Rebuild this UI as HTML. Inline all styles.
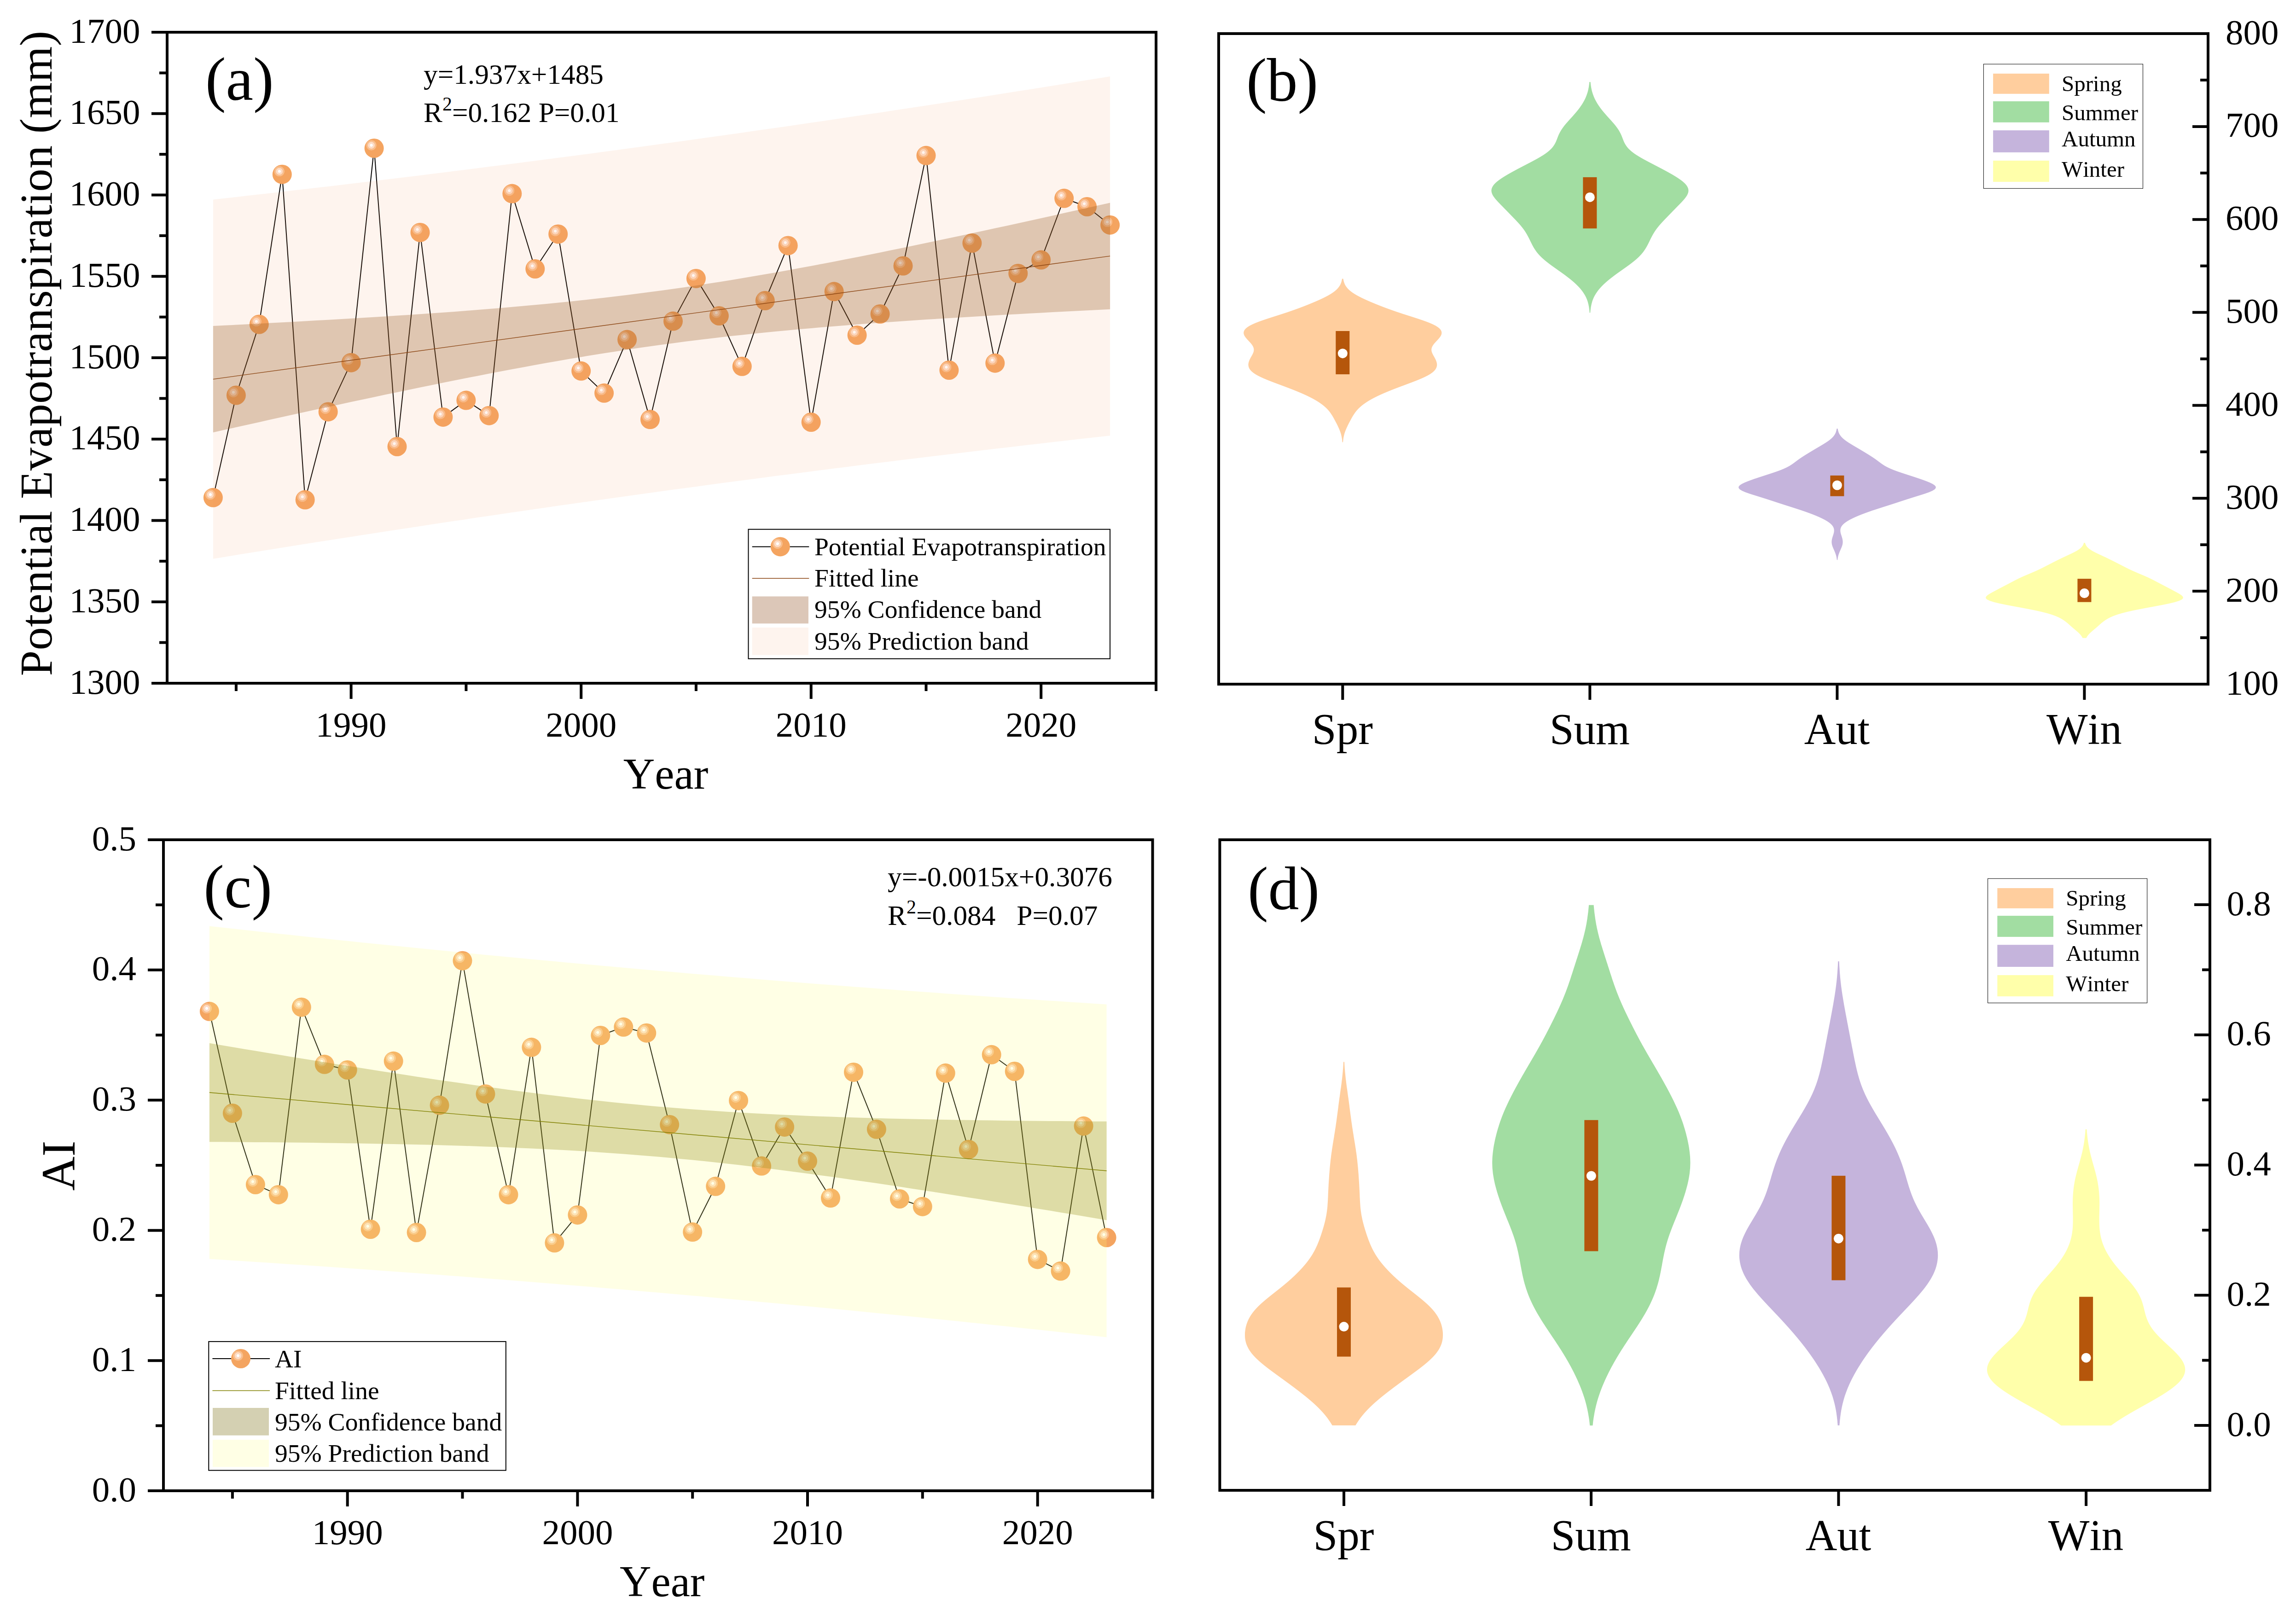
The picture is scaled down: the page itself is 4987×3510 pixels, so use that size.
<!DOCTYPE html>
<html lang="en"><head><meta charset="utf-8"><title>Potential Evapotranspiration and AI</title>
<style>html,body{margin:0;padding:0;background:#fff}svg{display:block}text{font-family:'Liberation Serif','Times New Roman',serif;fill:#000;font-kerning:none;font-variant-ligatures:none}</style></head><body>
<svg width="4987" height="3510" viewBox="0 0 4987 3510">
<defs>
<radialGradient id="ball" cx="0.357" cy="0.345" r="0.27" fx="0.357" fy="0.345"><stop offset="0" stop-color="#fff"/><stop offset="0.25" stop-color="#fff"/><stop offset="0.3" stop-color="#FDDCC6"/><stop offset="0.62" stop-color="#FDDCC6"/><stop offset="0.68" stop-color="#F9BE8C"/><stop offset="0.95" stop-color="#F9BE8C"/><stop offset="1" stop-color="#F4A460"/></radialGradient>
</defs>
<rect width="4987" height="3510" fill="#fff"/>
<g id="panel-a">
<polyline points="462.9,1080.8 512.9,858.5 562.8,704.5 612.8,378.7 662.7,1085.6 712.7,894.4 762.6,787.7 812.6,322 862.5,970 912.5,504.9 962.4,905.9 1012.4,869.6 1062.3,902.7 1112.3,420.6 1162.3,584 1212.2,508.4 1262.2,805.8 1312.1,853.8 1362.1,737.6 1412,911.1 1462,697.6 1511.9,604.9 1561.9,686 1611.8,795.8 1661.8,653 1711.7,533.4 1761.7,917 1811.7,633.3 1861.6,728 1911.6,682 1961.5,577.5 2011.5,337.8 2061.4,804 2111.4,528 2161.3,788.7 2211.3,593.9 2261.2,564.6 2311.2,430.8 2361.1,449 2411.1,488.7" fill="none" stroke="#000" stroke-width="2" stroke-linejoin="round"/>
<circle cx="462.9" cy="1080.8" r="21" fill="url(#ball)"/>
<circle cx="512.9" cy="858.5" r="21" fill="url(#ball)"/>
<circle cx="562.8" cy="704.5" r="21" fill="url(#ball)"/>
<circle cx="612.8" cy="378.7" r="21" fill="url(#ball)"/>
<circle cx="662.7" cy="1085.6" r="21" fill="url(#ball)"/>
<circle cx="712.7" cy="894.4" r="21" fill="url(#ball)"/>
<circle cx="762.6" cy="787.7" r="21" fill="url(#ball)"/>
<circle cx="812.6" cy="322" r="21" fill="url(#ball)"/>
<circle cx="862.5" cy="970" r="21" fill="url(#ball)"/>
<circle cx="912.5" cy="504.9" r="21" fill="url(#ball)"/>
<circle cx="962.4" cy="905.9" r="21" fill="url(#ball)"/>
<circle cx="1012.4" cy="869.6" r="21" fill="url(#ball)"/>
<circle cx="1062.3" cy="902.7" r="21" fill="url(#ball)"/>
<circle cx="1112.3" cy="420.6" r="21" fill="url(#ball)"/>
<circle cx="1162.3" cy="584" r="21" fill="url(#ball)"/>
<circle cx="1212.2" cy="508.4" r="21" fill="url(#ball)"/>
<circle cx="1262.2" cy="805.8" r="21" fill="url(#ball)"/>
<circle cx="1312.1" cy="853.8" r="21" fill="url(#ball)"/>
<circle cx="1362.1" cy="737.6" r="21" fill="url(#ball)"/>
<circle cx="1412" cy="911.1" r="21" fill="url(#ball)"/>
<circle cx="1462" cy="697.6" r="21" fill="url(#ball)"/>
<circle cx="1511.9" cy="604.9" r="21" fill="url(#ball)"/>
<circle cx="1561.9" cy="686" r="21" fill="url(#ball)"/>
<circle cx="1611.8" cy="795.8" r="21" fill="url(#ball)"/>
<circle cx="1661.8" cy="653" r="21" fill="url(#ball)"/>
<circle cx="1711.7" cy="533.4" r="21" fill="url(#ball)"/>
<circle cx="1761.7" cy="917" r="21" fill="url(#ball)"/>
<circle cx="1811.7" cy="633.3" r="21" fill="url(#ball)"/>
<circle cx="1861.6" cy="728" r="21" fill="url(#ball)"/>
<circle cx="1911.6" cy="682" r="21" fill="url(#ball)"/>
<circle cx="1961.5" cy="577.5" r="21" fill="url(#ball)"/>
<circle cx="2011.5" cy="337.8" r="21" fill="url(#ball)"/>
<circle cx="2061.4" cy="804" r="21" fill="url(#ball)"/>
<circle cx="2111.4" cy="528" r="21" fill="url(#ball)"/>
<circle cx="2161.3" cy="788.7" r="21" fill="url(#ball)"/>
<circle cx="2211.3" cy="593.9" r="21" fill="url(#ball)"/>
<circle cx="2261.2" cy="564.6" r="21" fill="url(#ball)"/>
<circle cx="2311.2" cy="430.8" r="21" fill="url(#ball)"/>
<circle cx="2361.1" cy="449" r="21" fill="url(#ball)"/>
<circle cx="2411.1" cy="488.7" r="21" fill="url(#ball)"/>
<polygon points="462.9,433.5 487.9,430.7 512.9,427.9 537.8,425.1 562.8,422.2 587.8,419.4 612.8,416.5 637.7,413.6 662.7,410.7 687.7,407.8 712.7,404.9 737.7,402 762.6,399 787.6,396 812.6,393 837.6,390 862.5,387 887.5,383.9 912.5,380.9 937.5,377.8 962.4,374.7 987.4,371.6 1012.4,368.4 1037.4,365.3 1062.3,362.1 1087.3,359 1112.3,355.8 1137.3,352.5 1162.3,349.3 1187.2,346.1 1212.2,342.8 1237.2,339.5 1262.2,336.2 1287.1,332.9 1312.1,329.6 1337.1,326.2 1362.1,322.8 1387,319.5 1412,316.1 1437,312.6 1462,309.2 1487,305.7 1511.9,302.3 1536.9,298.8 1561.9,295.3 1586.9,291.7 1611.8,288.2 1636.8,284.6 1661.8,281.1 1686.8,277.5 1711.7,273.9 1736.7,270.2 1761.7,266.6 1786.7,262.9 1811.7,259.3 1836.6,255.6 1861.6,251.8 1886.6,248.1 1911.6,244.4 1936.5,240.6 1961.5,236.8 1986.5,233 2011.5,229.2 2036.4,225.4 2061.4,221.5 2086.4,217.7 2111.4,213.8 2136.3,209.9 2161.3,206 2186.3,202.1 2211.3,198.1 2236.3,194.2 2261.2,190.2 2286.2,186.2 2311.2,182.2 2336.2,178.1 2361.1,174.1 2386.1,170 2411.1,166 2411.1,946.2 2386.1,949 2361.1,951.8 2336.2,954.6 2311.2,957.5 2286.2,960.3 2261.2,963.2 2236.3,966.1 2211.3,969 2186.3,971.9 2161.3,974.8 2136.3,977.7 2111.4,980.7 2086.4,983.7 2061.4,986.7 2036.4,989.7 2011.5,992.7 1986.5,995.8 1961.5,998.8 1936.5,1001.9 1911.6,1005 1886.6,1008.1 1861.6,1011.3 1836.6,1014.4 1811.7,1017.6 1786.7,1020.7 1761.7,1023.9 1736.7,1027.2 1711.7,1030.4 1686.8,1033.6 1661.8,1036.9 1636.8,1040.2 1611.8,1043.5 1586.9,1046.8 1561.9,1050.1 1536.9,1053.5 1511.9,1056.9 1487,1060.2 1462,1063.6 1437,1067.1 1412,1070.5 1387,1074 1362.1,1077.4 1337.1,1080.9 1312.1,1084.4 1287.1,1088 1262.2,1091.5 1237.2,1095.1 1212.2,1098.6 1187.2,1102.2 1162.3,1105.8 1137.3,1109.5 1112.3,1113.1 1087.3,1116.8 1062.3,1120.4 1037.4,1124.1 1012.4,1127.9 987.4,1131.6 962.4,1135.3 937.5,1139.1 912.5,1142.9 887.5,1146.7 862.5,1150.5 837.6,1154.3 812.6,1158.2 787.6,1162 762.6,1165.9 737.7,1169.8 712.7,1173.7 687.7,1177.6 662.7,1181.6 637.7,1185.5 612.8,1189.5 587.8,1193.5 562.8,1197.5 537.8,1201.6 512.9,1205.6 487.9,1209.7 462.9,1213.7" fill="#FA965A" fill-opacity="0.10"/>
<polygon points="462.9,708 487.9,706.7 512.9,705.5 537.8,704.2 562.8,702.9 587.8,701.6 612.8,700.3 637.7,698.9 662.7,697.5 687.7,696.1 712.7,694.7 737.7,693.3 762.6,691.8 787.6,690.3 812.6,688.8 837.6,687.2 862.5,685.6 887.5,683.9 912.5,682.2 937.5,680.5 962.4,678.7 987.4,676.9 1012.4,675 1037.4,673 1062.3,671 1087.3,669 1112.3,666.8 1137.3,664.6 1162.3,662.3 1187.2,659.9 1212.2,657.5 1237.2,654.9 1262.2,652.3 1287.1,649.6 1312.1,646.7 1337.1,643.8 1362.1,640.7 1387,637.6 1412,634.3 1437,630.9 1462,627.5 1487,623.9 1511.9,620.2 1536.9,616.3 1561.9,612.4 1586.9,608.4 1611.8,604.3 1636.8,600.1 1661.8,595.8 1686.8,591.4 1711.7,586.9 1736.7,582.3 1761.7,577.7 1786.7,572.9 1811.7,568.2 1836.6,563.3 1861.6,558.4 1886.6,553.4 1911.6,548.4 1936.5,543.3 1961.5,538.2 1986.5,533 2011.5,527.8 2036.4,522.6 2061.4,517.3 2086.4,512 2111.4,506.6 2136.3,501.2 2161.3,495.8 2186.3,490.4 2211.3,484.9 2236.3,479.4 2261.2,473.9 2286.2,468.4 2311.2,462.8 2336.2,457.3 2361.1,451.7 2386.1,446.1 2411.1,440.5 2411.1,671.7 2386.1,673 2361.1,674.2 2336.2,675.5 2311.2,676.8 2286.2,678.1 2261.2,679.4 2236.3,680.8 2211.3,682.2 2186.3,683.6 2161.3,685 2136.3,686.4 2111.4,687.9 2086.4,689.4 2061.4,690.9 2036.4,692.5 2011.5,694.1 1986.5,695.8 1961.5,697.5 1936.5,699.2 1911.6,701 1886.6,702.8 1861.6,704.7 1836.6,706.7 1811.7,708.7 1786.7,710.7 1761.7,712.9 1736.7,715.1 1711.7,717.4 1686.8,719.8 1661.8,722.2 1636.8,724.8 1611.8,727.4 1586.9,730.1 1561.9,733 1536.9,735.9 1511.9,739 1487,742.1 1462,745.4 1437,748.8 1412,752.2 1387,755.8 1362.1,759.5 1337.1,763.4 1312.1,767.3 1287.1,771.3 1262.2,775.4 1237.2,779.6 1212.2,783.9 1187.2,788.3 1162.3,792.8 1137.3,797.4 1112.3,802 1087.3,806.8 1062.3,811.5 1037.4,816.4 1012.4,821.3 987.4,826.3 962.4,831.3 937.5,836.4 912.5,841.5 887.5,846.7 862.5,851.9 837.6,857.1 812.6,862.4 787.6,867.7 762.6,873.1 737.7,878.5 712.7,883.9 687.7,889.3 662.7,894.8 637.7,900.3 612.8,905.8 587.8,911.3 562.8,916.9 537.8,922.4 512.9,928 487.9,933.6 462.9,939.2" fill="#975E26" fill-opacity="0.30"/>
<line x1="462.9" y1="823.6" x2="2411.1" y2="556.1" stroke="#8B4513" stroke-width="1.4" />
<rect x="363" y="70" width="2148" height="1414" fill="none" stroke="#000" stroke-width="6"/>
<line x1="329" y1="1484" x2="363" y2="1484" stroke="#000" stroke-width="6" />
<text x="304.5" y="1506.5" font-size="77" text-anchor="end" >1300</text>
<line x1="346" y1="1395.6" x2="363" y2="1395.6" stroke="#000" stroke-width="6" />
<line x1="329" y1="1307.2" x2="363" y2="1307.2" stroke="#000" stroke-width="6" />
<text x="304.5" y="1329.8" font-size="77" text-anchor="end" >1350</text>
<line x1="346" y1="1218.9" x2="363" y2="1218.9" stroke="#000" stroke-width="6" />
<line x1="329" y1="1130.5" x2="363" y2="1130.5" stroke="#000" stroke-width="6" />
<text x="304.5" y="1153" font-size="77" text-anchor="end" >1400</text>
<line x1="346" y1="1042.1" x2="363" y2="1042.1" stroke="#000" stroke-width="6" />
<line x1="329" y1="953.8" x2="363" y2="953.8" stroke="#000" stroke-width="6" />
<text x="304.5" y="976.2" font-size="77" text-anchor="end" >1450</text>
<line x1="346" y1="865.4" x2="363" y2="865.4" stroke="#000" stroke-width="6" />
<line x1="329" y1="777" x2="363" y2="777" stroke="#000" stroke-width="6" />
<text x="304.5" y="799.5" font-size="77" text-anchor="end" >1500</text>
<line x1="346" y1="688.6" x2="363" y2="688.6" stroke="#000" stroke-width="6" />
<line x1="329" y1="600.2" x2="363" y2="600.2" stroke="#000" stroke-width="6" />
<text x="304.5" y="622.8" font-size="77" text-anchor="end" >1550</text>
<line x1="346" y1="511.9" x2="363" y2="511.9" stroke="#000" stroke-width="6" />
<line x1="329" y1="423.5" x2="363" y2="423.5" stroke="#000" stroke-width="6" />
<text x="304.5" y="446" font-size="77" text-anchor="end" >1600</text>
<line x1="346" y1="335.1" x2="363" y2="335.1" stroke="#000" stroke-width="6" />
<line x1="329" y1="246.8" x2="363" y2="246.8" stroke="#000" stroke-width="6" />
<text x="304.5" y="269.2" font-size="77" text-anchor="end" >1650</text>
<line x1="346" y1="158.4" x2="363" y2="158.4" stroke="#000" stroke-width="6" />
<line x1="329" y1="70" x2="363" y2="70" stroke="#000" stroke-width="6" />
<text x="304.5" y="92.5" font-size="77" text-anchor="end" >1700</text>
<line x1="512.9" y1="1484" x2="512.9" y2="1501" stroke="#000" stroke-width="6" />
<line x1="762.6" y1="1484" x2="762.6" y2="1518" stroke="#000" stroke-width="6" />
<text x="762.6" y="1600" font-size="77" text-anchor="middle" >1990</text>
<line x1="1012.4" y1="1484" x2="1012.4" y2="1501" stroke="#000" stroke-width="6" />
<line x1="1262.2" y1="1484" x2="1262.2" y2="1518" stroke="#000" stroke-width="6" />
<text x="1262.2" y="1600" font-size="77" text-anchor="middle" >2000</text>
<line x1="1511.9" y1="1484" x2="1511.9" y2="1501" stroke="#000" stroke-width="6" />
<line x1="1761.7" y1="1484" x2="1761.7" y2="1518" stroke="#000" stroke-width="6" />
<text x="1761.7" y="1600" font-size="77" text-anchor="middle" >2010</text>
<line x1="2011.5" y1="1484" x2="2011.5" y2="1501" stroke="#000" stroke-width="6" />
<line x1="2261.2" y1="1484" x2="2261.2" y2="1518" stroke="#000" stroke-width="6" />
<text x="2261.2" y="1600" font-size="77" text-anchor="middle" >2020</text>
<line x1="2511" y1="1484" x2="2511" y2="1501" stroke="#000" stroke-width="6" />
<text x="1446" y="1713" font-size="95" text-anchor="middle" >Year</text>
<text x="111.7" y="767.4" font-size="100" text-anchor="middle" transform="rotate(-90 111.7 767.4)" letter-spacing="0.4">Potential Evapotranspiration (mm)</text>
<text x="446" y="217.4" font-size="134" text-anchor="start" >(a)</text>
<text x="920" y="181.5" font-size="61.3" text-anchor="start" >y=1.937x+1485</text>
<text x="920" y="265.1" font-size="61.3">R<tspan dy="-25" font-size="42">2</tspan><tspan dy="25">=0.162 P=0.01</tspan></text>
<rect x="1625.5" y="1149.7" width="785.5" height="281.1" fill="#fff" stroke="#000" stroke-width="2"/>
<line x1="1633.7" y1="1187.4" x2="1757.3" y2="1187.4" stroke="#000" stroke-width="2" />
<circle cx="1694.8" cy="1187.4" r="21" fill="url(#ball)"/>
<line x1="1633.7" y1="1256.2" x2="1757.3" y2="1256.2" stroke="#8B4513" stroke-width="1.4" />
<rect x="1633.7" y="1295.4" width="122.2" height="58.9" fill="#8B4513" fill-opacity="0.30"/>
<rect x="1633.7" y="1363" width="122.2" height="59.7" fill="#FA965A" fill-opacity="0.10"/>
<text x="1769" y="1205.7" font-size="55.5" text-anchor="start" >Potential Evapotranspiration</text>
<text x="1769" y="1273.8" font-size="55.5" text-anchor="start" >Fitted line</text>
<text x="1769" y="1342.2" font-size="55.5" text-anchor="start" >95% Confidence band</text>
<text x="1769" y="1411" font-size="55.5" text-anchor="start" >95% Prediction band</text>
</g>
<g id="panel-b">
<path d="M2917.5,605.6L2918.1,608.6L2918.8,611.6L2919.8,614.6L2921,617.6L2922.6,620.6L2924.7,623.6L2927.1,626.6L2930.1,629.6L2933.6,632.6L2937.6,635.6L2942.2,638.6L2947.3,641.6L2952.9,644.6L2958.9,647.6L2965.3,650.6L2972,653.6L2979,656.6L2986.2,659.6L2993.6,662.6L3001.2,665.6L3009.1,668.6L3017.3,671.6L3025.7,674.6L3034.4,677.6L3043.4,680.6L3052.6,683.6L3062,686.6L3071.4,689.6L3080.6,692.6L3089.5,695.6L3097.9,698.6L3105.6,701.6L3112.4,704.6L3118.3,707.6L3123,710.6L3126.7,713.6L3129.3,716.6L3130.8,719.6L3131.4,722.6L3131.1,725.6L3130,728.6L3128.2,731.6L3125.9,734.6L3123.3,737.6L3120.5,740.6L3117.7,743.6L3115,746.6L3112.8,749.6L3111,752.6L3109.8,755.6L3109.2,758.6L3109.3,761.6L3109.9,764.6L3111.1,767.6L3112.5,770.6L3114.2,773.6L3115.9,776.6L3117.5,779.6L3118.9,782.6L3120,785.6L3120.8,788.6L3121.2,791.6L3121,794.6L3120.3,797.6L3119,800.6L3117,803.6L3114.2,806.6L3110.7,809.6L3106.4,812.6L3101.2,815.6L3095.3,818.6L3088.8,821.6L3081.8,824.6L3074.3,827.6L3066.5,830.6L3058.5,833.6L3050.5,836.6L3042.4,839.6L3034.5,842.6L3026.7,845.6L3019.2,848.6L3011.9,851.6L3004.8,854.6L2998.1,857.6L2991.7,860.6L2985.7,863.6L2980,866.6L2974.7,869.6L2969.8,872.6L2965.3,875.6L2961.1,878.6L2957.3,881.6L2953.9,884.6L2950.7,887.6L2947.9,890.6L2945.4,893.6L2943.1,896.6L2941.1,899.6L2939.1,902.6L2937.3,905.6L2935.6,908.6L2934,911.6L2932.4,914.6L2930.8,917.6L2929.2,920.6L2927.7,923.6L2926.3,926.6L2924.9,929.6L2923.6,932.6L2922.4,935.6L2921.3,938.6L2920.3,941.6L2919.5,944.6L2918.8,947.6L2918.2,950.6L2917.7,953.6L2917.4,956.6L2917.1,959.6L2917,960.6L2915.6,960.6L2915.5,959.6L2915.2,956.6L2914.9,953.6L2914.4,950.6L2913.8,947.6L2913.1,944.6L2912.3,941.6L2911.3,938.6L2910.2,935.6L2909,932.6L2907.7,929.6L2906.3,926.6L2904.9,923.6L2903.4,920.6L2901.8,917.6L2900.2,914.6L2898.6,911.6L2897,908.6L2895.3,905.6L2893.5,902.6L2891.5,899.6L2889.5,896.6L2887.2,893.6L2884.7,890.6L2881.9,887.6L2878.7,884.6L2875.3,881.6L2871.5,878.6L2867.3,875.6L2862.8,872.6L2857.9,869.6L2852.6,866.6L2846.9,863.6L2840.9,860.6L2834.5,857.6L2827.8,854.6L2820.7,851.6L2813.4,848.6L2805.9,845.6L2798.1,842.6L2790.2,839.6L2782.1,836.6L2774.1,833.6L2766.1,830.6L2758.3,827.6L2750.8,824.6L2743.8,821.6L2737.3,818.6L2731.4,815.6L2726.2,812.6L2721.9,809.6L2718.4,806.6L2715.6,803.6L2713.6,800.6L2712.3,797.6L2711.6,794.6L2711.4,791.6L2711.8,788.6L2712.6,785.6L2713.7,782.6L2715.1,779.6L2716.7,776.6L2718.4,773.6L2720.1,770.6L2721.5,767.6L2722.7,764.6L2723.3,761.6L2723.4,758.6L2722.8,755.6L2721.6,752.6L2719.8,749.6L2717.6,746.6L2714.9,743.6L2712.1,740.6L2709.3,737.6L2706.7,734.6L2704.4,731.6L2702.6,728.6L2701.5,725.6L2701.2,722.6L2701.8,719.6L2703.3,716.6L2705.9,713.6L2709.6,710.6L2714.3,707.6L2720.2,704.6L2727,701.6L2734.7,698.6L2743.1,695.6L2752,692.6L2761.2,689.6L2770.6,686.6L2780,683.6L2789.2,680.6L2798.2,677.6L2806.9,674.6L2815.3,671.6L2823.5,668.6L2831.4,665.6L2839,662.6L2846.4,659.6L2853.6,656.6L2860.6,653.6L2867.3,650.6L2873.7,647.6L2879.7,644.6L2885.3,641.6L2890.4,638.6L2895,635.6L2899,632.6L2902.5,629.6L2905.5,626.6L2907.9,623.6L2910,620.6L2911.6,617.6L2912.8,614.6L2913.8,611.6L2914.5,608.6L2915.1,605.6Z" fill="#FFCE9E"/>
<rect x="2901.3" y="719" width="30" height="94" fill="#B5560B"/>
<circle cx="2916.3" cy="767.7" r="10.5" fill="#fff"/>
<path d="M3454.5,177.9L3454.8,180.9L3455.2,183.9L3455.6,186.9L3456.1,189.9L3456.7,192.9L3457.3,195.9L3458.1,198.9L3459,201.9L3460,204.9L3461.1,207.9L3462.3,210.9L3463.6,213.9L3465.1,216.9L3466.7,219.9L3468.4,222.9L3470.2,225.9L3472.2,228.9L3474.3,231.9L3476.4,234.9L3478.7,237.9L3481.1,240.9L3483.6,243.9L3486.2,246.9L3488.8,249.9L3491.4,252.9L3494.1,255.9L3496.9,258.9L3499.6,261.9L3502.2,264.9L3504.9,267.9L3507.4,270.9L3509.8,273.9L3512,276.9L3514.1,279.9L3516.1,282.9L3517.8,285.9L3519.4,288.9L3520.9,291.9L3522.2,294.9L3523.4,297.9L3524.5,300.9L3525.7,303.9L3526.9,306.9L3528.3,309.9L3529.9,312.9L3531.8,315.9L3533.9,318.9L3536.4,321.9L3539.4,324.9L3542.7,327.9L3546.4,330.9L3550.5,333.9L3555,336.9L3559.9,339.9L3565,342.9L3570.3,345.9L3575.9,348.9L3581.5,351.9L3587.3,354.9L3593,357.9L3598.8,360.9L3604.6,363.9L3610.3,366.9L3615.9,369.9L3621.4,372.9L3626.8,375.9L3632.1,378.9L3637.1,381.9L3642,384.9L3646.5,387.9L3650.8,390.9L3654.7,393.9L3658.1,396.9L3661.1,399.9L3663.5,402.9L3665.3,405.9L3666.6,408.9L3667.3,411.9L3667.4,414.9L3666.9,417.9L3665.9,420.9L3664.5,423.9L3662.6,426.9L3660.4,429.9L3658,432.9L3655.3,435.9L3652.6,438.9L3649.7,441.9L3646.8,444.9L3643.8,447.9L3640.9,450.9L3638,453.9L3635,456.9L3632.1,459.9L3629.2,462.9L3626.3,465.9L3623.4,468.9L3620.5,471.9L3617.6,474.9L3614.7,477.9L3611.9,480.9L3609.1,483.9L3606.4,486.9L3603.8,489.9L3601.4,492.9L3599,495.9L3596.8,498.9L3594.7,501.9L3592.8,504.9L3591,507.9L3589.3,510.9L3587.7,513.9L3586.1,516.9L3584.6,519.9L3583.2,522.9L3581.7,525.9L3580.2,528.9L3578.7,531.9L3577.1,534.9L3575.4,537.9L3573.5,540.9L3571.5,543.9L3569.4,546.9L3567,549.9L3564.4,552.9L3561.6,555.9L3558.6,558.9L3555.3,561.9L3551.9,564.9L3548.2,567.9L3544.4,570.9L3540.5,573.9L3536.4,576.9L3532.2,579.9L3528,582.9L3523.8,585.9L3519.5,588.9L3515.3,591.9L3511.1,594.9L3507,597.9L3503.1,600.9L3499.2,603.9L3495.4,606.9L3491.8,609.9L3488.3,612.9L3485,615.9L3481.9,618.9L3478.9,621.9L3476.1,624.9L3473.5,627.9L3471.1,630.9L3468.9,633.9L3466.9,636.9L3465,639.9L3463.3,642.9L3461.8,645.9L3460.5,648.9L3459.3,651.9L3458.3,654.9L3457.5,657.9L3456.7,660.9L3456.1,663.9L3455.5,666.9L3455.1,669.9L3454.7,672.9L3454.4,675.9L3454.2,678.9L3454.2,679.3L3452.6,679.3L3452.6,678.9L3452.4,675.9L3452.1,672.9L3451.7,669.9L3451.3,666.9L3450.7,663.9L3450.1,660.9L3449.3,657.9L3448.5,654.9L3447.5,651.9L3446.3,648.9L3445,645.9L3443.5,642.9L3441.8,639.9L3439.9,636.9L3437.9,633.9L3435.7,630.9L3433.3,627.9L3430.7,624.9L3427.9,621.9L3424.9,618.9L3421.8,615.9L3418.5,612.9L3415,609.9L3411.4,606.9L3407.6,603.9L3403.7,600.9L3399.8,597.9L3395.7,594.9L3391.5,591.9L3387.3,588.9L3383,585.9L3378.8,582.9L3374.6,579.9L3370.4,576.9L3366.3,573.9L3362.4,570.9L3358.6,567.9L3354.9,564.9L3351.5,561.9L3348.2,558.9L3345.2,555.9L3342.4,552.9L3339.8,549.9L3337.4,546.9L3335.3,543.9L3333.3,540.9L3331.4,537.9L3329.7,534.9L3328.1,531.9L3326.6,528.9L3325.1,525.9L3323.6,522.9L3322.2,519.9L3320.7,516.9L3319.1,513.9L3317.5,510.9L3315.8,507.9L3314,504.9L3312.1,501.9L3310,498.9L3307.8,495.9L3305.4,492.9L3303,489.9L3300.4,486.9L3297.7,483.9L3294.9,480.9L3292.1,477.9L3289.2,474.9L3286.3,471.9L3283.4,468.9L3280.5,465.9L3277.6,462.9L3274.7,459.9L3271.8,456.9L3268.8,453.9L3265.9,450.9L3263,447.9L3260,444.9L3257.1,441.9L3254.2,438.9L3251.5,435.9L3248.8,432.9L3246.4,429.9L3244.2,426.9L3242.3,423.9L3240.9,420.9L3239.9,417.9L3239.4,414.9L3239.5,411.9L3240.2,408.9L3241.5,405.9L3243.3,402.9L3245.7,399.9L3248.7,396.9L3252.1,393.9L3256,390.9L3260.3,387.9L3264.8,384.9L3269.7,381.9L3274.7,378.9L3280,375.9L3285.4,372.9L3290.9,369.9L3296.5,366.9L3302.2,363.9L3308,360.9L3313.8,357.9L3319.5,354.9L3325.3,351.9L3330.9,348.9L3336.5,345.9L3341.8,342.9L3346.9,339.9L3351.8,336.9L3356.3,333.9L3360.4,330.9L3364.1,327.9L3367.4,324.9L3370.4,321.9L3372.9,318.9L3375,315.9L3376.9,312.9L3378.5,309.9L3379.9,306.9L3381.1,303.9L3382.3,300.9L3383.4,297.9L3384.6,294.9L3385.9,291.9L3387.4,288.9L3389,285.9L3390.7,282.9L3392.7,279.9L3394.8,276.9L3397,273.9L3399.4,270.9L3401.9,267.9L3404.6,264.9L3407.2,261.9L3409.9,258.9L3412.7,255.9L3415.4,252.9L3418,249.9L3420.6,246.9L3423.2,243.9L3425.7,240.9L3428.1,237.9L3430.4,234.9L3432.5,231.9L3434.6,228.9L3436.6,225.9L3438.4,222.9L3440.1,219.9L3441.7,216.9L3443.2,213.9L3444.5,210.9L3445.7,207.9L3446.8,204.9L3447.8,201.9L3448.7,198.9L3449.5,195.9L3450.1,192.9L3450.7,189.9L3451.2,186.9L3451.6,183.9L3452,180.9L3452.3,177.9Z" fill="#A2DDA2"/>
<rect x="3438.3" y="384.9" width="30" height="111.3" fill="#B5560B"/>
<circle cx="3453.3" cy="428.4" r="10.5" fill="#fff"/>
<path d="M3991.6,930.9L3992.1,933.9L3992.9,936.9L3993.9,939.9L3995.4,942.9L3997.3,945.9L3999.7,948.9L4002.7,951.9L4006.2,954.9L4010.2,957.9L4014.6,960.9L4019.4,963.9L4024.3,966.9L4029.4,969.9L4034.5,972.9L4039.6,975.9L4044.6,978.9L4049.6,981.9L4054.5,984.9L4059.4,987.9L4064.1,990.9L4068.7,993.9L4073.1,996.9L4077.2,999.9L4081.2,1002.9L4085.2,1005.9L4089.5,1008.9L4094.2,1011.9L4099.8,1014.9L4106.2,1017.9L4113.5,1020.9L4121.6,1023.9L4130.4,1026.9L4139.5,1029.9L4148.8,1032.9L4158,1035.9L4167,1038.9L4175.7,1041.9L4183.9,1044.9L4191.3,1047.9L4197.5,1050.9L4202.1,1053.9L4204.6,1056.9L4204.6,1059.9L4202.1,1062.9L4197.2,1065.9L4190.3,1068.9L4181.9,1071.9L4172.6,1074.9L4162.9,1077.9L4153.3,1080.9L4143.8,1083.9L4134.6,1086.9L4125.4,1089.9L4116.3,1092.9L4107,1095.9L4097.6,1098.9L4088.2,1101.9L4078.9,1104.9L4069.7,1107.9L4060.9,1110.9L4052.5,1113.9L4044.5,1116.9L4037,1119.9L4030,1122.9L4023.6,1125.9L4017.7,1128.9L4012.5,1131.9L4008.1,1134.9L4004.4,1137.9L4001.5,1140.9L3999.4,1143.9L3998.1,1146.9L3997.4,1149.9L3997.3,1152.9L3997.6,1155.9L3998.3,1158.9L3999.2,1161.9L4000.2,1164.9L4001.1,1167.9L4001.9,1170.9L4002.4,1173.9L4002.6,1176.9L4002.4,1179.9L4001.9,1182.9L4001,1185.9L3999.9,1188.9L3998.6,1191.9L3997.3,1194.9L3996,1197.9L3994.8,1200.9L3993.7,1203.9L3992.8,1206.9L3992.1,1209.9L3991.6,1212.9L3991.2,1215.9L3991.2,1216.2L3989.8,1216.2L3989.8,1215.9L3989.4,1212.9L3988.9,1209.9L3988.2,1206.9L3987.3,1203.9L3986.2,1200.9L3985,1197.9L3983.7,1194.9L3982.4,1191.9L3981.1,1188.9L3980,1185.9L3979.1,1182.9L3978.6,1179.9L3978.4,1176.9L3978.6,1173.9L3979.1,1170.9L3979.9,1167.9L3980.8,1164.9L3981.8,1161.9L3982.7,1158.9L3983.4,1155.9L3983.7,1152.9L3983.6,1149.9L3982.9,1146.9L3981.6,1143.9L3979.5,1140.9L3976.6,1137.9L3972.9,1134.9L3968.5,1131.9L3963.3,1128.9L3957.4,1125.9L3951,1122.9L3944,1119.9L3936.5,1116.9L3928.5,1113.9L3920.1,1110.9L3911.3,1107.9L3902.1,1104.9L3892.8,1101.9L3883.4,1098.9L3874,1095.9L3864.7,1092.9L3855.6,1089.9L3846.4,1086.9L3837.2,1083.9L3827.7,1080.9L3818.1,1077.9L3808.4,1074.9L3799.1,1071.9L3790.7,1068.9L3783.8,1065.9L3778.9,1062.9L3776.4,1059.9L3776.4,1056.9L3778.9,1053.9L3783.5,1050.9L3789.7,1047.9L3797.1,1044.9L3805.3,1041.9L3814,1038.9L3823,1035.9L3832.2,1032.9L3841.5,1029.9L3850.6,1026.9L3859.4,1023.9L3867.5,1020.9L3874.8,1017.9L3881.2,1014.9L3886.8,1011.9L3891.5,1008.9L3895.8,1005.9L3899.8,1002.9L3903.8,999.9L3907.9,996.9L3912.3,993.9L3916.9,990.9L3921.6,987.9L3926.5,984.9L3931.4,981.9L3936.4,978.9L3941.4,975.9L3946.5,972.9L3951.6,969.9L3956.7,966.9L3961.6,963.9L3966.4,960.9L3970.8,957.9L3974.8,954.9L3978.3,951.9L3981.3,948.9L3983.7,945.9L3985.6,942.9L3987.1,939.9L3988.1,936.9L3988.9,933.9L3989.4,930.9Z" fill="#C5B4DC"/>
<rect x="3975.4" y="1032.8" width="30" height="44.9" fill="#B5560B"/>
<circle cx="3990.4" cy="1054" r="10.5" fill="#fff"/>
<path d="M4528.7,1178.9L4529.7,1181.9L4531.2,1184.9L4533.4,1187.9L4536.5,1190.9L4540.5,1193.9L4545.4,1196.9L4551.1,1199.9L4557.3,1202.9L4563.7,1205.9L4570.1,1208.9L4576.5,1211.9L4582.6,1214.9L4588.7,1217.9L4594.6,1220.9L4600.5,1223.9L4606.3,1226.9L4612.2,1229.9L4618,1232.9L4624.1,1235.9L4630.5,1238.9L4637.2,1241.9L4644.2,1244.9L4651.3,1247.9L4658.4,1250.9L4665.1,1253.9L4671.4,1256.9L4677.4,1259.9L4683.1,1262.9L4688.8,1265.9L4694.5,1268.9L4700.2,1271.9L4706,1274.9L4711.8,1277.9L4717.4,1280.9L4723,1283.9L4728.6,1286.9L4733.9,1289.9L4738.4,1292.9L4741.3,1295.9L4741.9,1298.9L4739.3,1301.9L4733.1,1304.9L4723.5,1307.9L4711,1310.9L4696.3,1313.9L4680.5,1316.9L4664.2,1319.9L4648.4,1322.9L4633.5,1325.9L4620.1,1328.9L4608.4,1331.9L4598.5,1334.9L4590.2,1337.9L4583.4,1340.9L4577.7,1343.9L4572.9,1346.9L4568.7,1349.9L4564.9,1352.9L4561.4,1355.9L4558.1,1358.9L4554.7,1361.9L4551.2,1364.9L4547.6,1367.9L4544.1,1370.9L4540.7,1373.9L4537.7,1376.9L4535.1,1379.9L4533,1382.9L4531.4,1385.7L4523.6,1385.7L4522,1382.9L4519.9,1379.9L4517.3,1376.9L4514.3,1373.9L4510.9,1370.9L4507.4,1367.9L4503.8,1364.9L4500.3,1361.9L4496.9,1358.9L4493.6,1355.9L4490.1,1352.9L4486.3,1349.9L4482.1,1346.9L4477.3,1343.9L4471.6,1340.9L4464.8,1337.9L4456.5,1334.9L4446.6,1331.9L4434.9,1328.9L4421.5,1325.9L4406.6,1322.9L4390.8,1319.9L4374.5,1316.9L4358.7,1313.9L4344,1310.9L4331.5,1307.9L4321.9,1304.9L4315.7,1301.9L4313.1,1298.9L4313.7,1295.9L4316.6,1292.9L4321.1,1289.9L4326.4,1286.9L4332,1283.9L4337.6,1280.9L4343.2,1277.9L4349,1274.9L4354.8,1271.9L4360.5,1268.9L4366.2,1265.9L4371.9,1262.9L4377.6,1259.9L4383.6,1256.9L4389.9,1253.9L4396.6,1250.9L4403.7,1247.9L4410.8,1244.9L4417.8,1241.9L4424.5,1238.9L4430.9,1235.9L4437,1232.9L4442.8,1229.9L4448.7,1226.9L4454.5,1223.9L4460.4,1220.9L4466.3,1217.9L4472.4,1214.9L4478.5,1211.9L4484.9,1208.9L4491.3,1205.9L4497.7,1202.9L4503.9,1199.9L4509.6,1196.9L4514.5,1193.9L4518.5,1190.9L4521.6,1187.9L4523.8,1184.9L4525.3,1181.9L4526.3,1178.9Z" fill="#FFFFAA"/>
<rect x="4512.4" y="1257.1" width="30" height="50.6" fill="#B5560B"/>
<circle cx="4527.4" cy="1288.5" r="10.5" fill="#fff"/>
<rect x="2647" y="73" width="2149" height="1413" fill="none" stroke="#000" stroke-width="6"/>
<text x="4834" y="1508.5" font-size="77" text-anchor="start" >100</text>
<line x1="4779" y1="1385.1" x2="4796" y2="1385.1" stroke="#000" stroke-width="6" />
<line x1="4762" y1="1284.1" x2="4796" y2="1284.1" stroke="#000" stroke-width="6" />
<text x="4834" y="1306.6" font-size="77" text-anchor="start" >200</text>
<line x1="4779" y1="1183.2" x2="4796" y2="1183.2" stroke="#000" stroke-width="6" />
<line x1="4762" y1="1082.3" x2="4796" y2="1082.3" stroke="#000" stroke-width="6" />
<text x="4834" y="1104.8" font-size="77" text-anchor="start" >300</text>
<line x1="4779" y1="981.4" x2="4796" y2="981.4" stroke="#000" stroke-width="6" />
<line x1="4762" y1="880.4" x2="4796" y2="880.4" stroke="#000" stroke-width="6" />
<text x="4834" y="902.9" font-size="77" text-anchor="start" >400</text>
<line x1="4779" y1="779.5" x2="4796" y2="779.5" stroke="#000" stroke-width="6" />
<line x1="4762" y1="678.6" x2="4796" y2="678.6" stroke="#000" stroke-width="6" />
<text x="4834" y="701.1" font-size="77" text-anchor="start" >500</text>
<line x1="4779" y1="577.6" x2="4796" y2="577.6" stroke="#000" stroke-width="6" />
<line x1="4762" y1="476.7" x2="4796" y2="476.7" stroke="#000" stroke-width="6" />
<text x="4834" y="499.2" font-size="77" text-anchor="start" >600</text>
<line x1="4779" y1="375.8" x2="4796" y2="375.8" stroke="#000" stroke-width="6" />
<line x1="4762" y1="274.9" x2="4796" y2="274.9" stroke="#000" stroke-width="6" />
<text x="4834" y="297.4" font-size="77" text-anchor="start" >700</text>
<line x1="4779" y1="173.9" x2="4796" y2="173.9" stroke="#000" stroke-width="6" />
<text x="4834" y="95.5" font-size="77" text-anchor="start" >800</text>
<line x1="2916.3" y1="1486" x2="2916.3" y2="1520" stroke="#000" stroke-width="6" />
<text x="2915.8" y="1616" font-size="95" text-anchor="middle" >Spr</text>
<line x1="3453.3" y1="1486" x2="3453.3" y2="1520" stroke="#000" stroke-width="6" />
<text x="3452.8" y="1616" font-size="95" text-anchor="middle" >Sum</text>
<line x1="3990.4" y1="1486" x2="3990.4" y2="1520" stroke="#000" stroke-width="6" />
<text x="3989.9" y="1616" font-size="95" text-anchor="middle" >Aut</text>
<line x1="4527.4" y1="1486" x2="4527.4" y2="1520" stroke="#000" stroke-width="6" />
<text x="4526.9" y="1616" font-size="95" text-anchor="middle" >Win</text>
<text x="2707" y="218.7" font-size="134" text-anchor="start" >(b)</text>
<rect x="4308.4" y="139.2" width="346.1" height="270.1" fill="#fff" stroke="#000" stroke-width="1"/>
<rect x="4329.1" y="159.9" width="121.7" height="43.9" fill="#FFCE9E"/>
<text x="4478" y="197.8" font-size="49" text-anchor="start" >Spring</text>
<rect x="4329.1" y="220" width="121.7" height="45.8" fill="#A2DDA2"/>
<text x="4478" y="260.5" font-size="49" text-anchor="start" >Summer</text>
<rect x="4329.1" y="283.1" width="121.7" height="47.8" fill="#C5B4DC"/>
<text x="4478" y="317.7" font-size="49" text-anchor="start" >Autumn</text>
<rect x="4329.1" y="348.9" width="121.7" height="46.1" fill="#FFFFAA"/>
<text x="4478" y="383.7" font-size="49" text-anchor="start" >Winter</text>
</g>
<g id="panel-c">
<polyline points="454.9,2196.8 504.9,2418 554.9,2573 604.8,2594.9 654.8,2187.7 704.8,2311.8 754.7,2324 804.7,2670 854.7,2304.8 904.6,2677 954.6,2400.6 1004.5,2086.7 1054.5,2376.2 1104.5,2594.9 1154.4,2274.8 1204.4,2699.6 1254.4,2638.9 1304.3,2249 1354.3,2230.8 1404.3,2243.7 1454.2,2442.7 1504.2,2676.1 1554.2,2576.8 1604.1,2390.4 1654.1,2532.6 1704.1,2447.9 1754,2522 1804,2602.1 1854,2328.9 1903.9,2452.8 1953.9,2604 2003.8,2620.7 2053.8,2330.8 2103.8,2496.7 2153.7,2290.8 2203.7,2327 2253.7,2735.4 2303.6,2760.8 2353.6,2445.8 2403.6,2688" fill="none" stroke="#000" stroke-width="2" stroke-linejoin="round"/>
<circle cx="454.9" cy="2196.8" r="21" fill="url(#ball)"/>
<circle cx="504.9" cy="2418" r="21" fill="url(#ball)"/>
<circle cx="554.9" cy="2573" r="21" fill="url(#ball)"/>
<circle cx="604.8" cy="2594.9" r="21" fill="url(#ball)"/>
<circle cx="654.8" cy="2187.7" r="21" fill="url(#ball)"/>
<circle cx="704.8" cy="2311.8" r="21" fill="url(#ball)"/>
<circle cx="754.7" cy="2324" r="21" fill="url(#ball)"/>
<circle cx="804.7" cy="2670" r="21" fill="url(#ball)"/>
<circle cx="854.7" cy="2304.8" r="21" fill="url(#ball)"/>
<circle cx="904.6" cy="2677" r="21" fill="url(#ball)"/>
<circle cx="954.6" cy="2400.6" r="21" fill="url(#ball)"/>
<circle cx="1004.5" cy="2086.7" r="21" fill="url(#ball)"/>
<circle cx="1054.5" cy="2376.2" r="21" fill="url(#ball)"/>
<circle cx="1104.5" cy="2594.9" r="21" fill="url(#ball)"/>
<circle cx="1154.4" cy="2274.8" r="21" fill="url(#ball)"/>
<circle cx="1204.4" cy="2699.6" r="21" fill="url(#ball)"/>
<circle cx="1254.4" cy="2638.9" r="21" fill="url(#ball)"/>
<circle cx="1304.3" cy="2249" r="21" fill="url(#ball)"/>
<circle cx="1354.3" cy="2230.8" r="21" fill="url(#ball)"/>
<circle cx="1404.3" cy="2243.7" r="21" fill="url(#ball)"/>
<circle cx="1454.2" cy="2442.7" r="21" fill="url(#ball)"/>
<circle cx="1504.2" cy="2676.1" r="21" fill="url(#ball)"/>
<circle cx="1554.2" cy="2576.8" r="21" fill="url(#ball)"/>
<circle cx="1604.1" cy="2390.4" r="21" fill="url(#ball)"/>
<circle cx="1654.1" cy="2532.6" r="21" fill="url(#ball)"/>
<circle cx="1704.1" cy="2447.9" r="21" fill="url(#ball)"/>
<circle cx="1754" cy="2522" r="21" fill="url(#ball)"/>
<circle cx="1804" cy="2602.1" r="21" fill="url(#ball)"/>
<circle cx="1854" cy="2328.9" r="21" fill="url(#ball)"/>
<circle cx="1903.9" cy="2452.8" r="21" fill="url(#ball)"/>
<circle cx="1953.9" cy="2604" r="21" fill="url(#ball)"/>
<circle cx="2003.8" cy="2620.7" r="21" fill="url(#ball)"/>
<circle cx="2053.8" cy="2330.8" r="21" fill="url(#ball)"/>
<circle cx="2103.8" cy="2496.7" r="21" fill="url(#ball)"/>
<circle cx="2153.7" cy="2290.8" r="21" fill="url(#ball)"/>
<circle cx="2203.7" cy="2327" r="21" fill="url(#ball)"/>
<circle cx="2253.7" cy="2735.4" r="21" fill="url(#ball)"/>
<circle cx="2303.6" cy="2760.8" r="21" fill="url(#ball)"/>
<circle cx="2353.6" cy="2445.8" r="21" fill="url(#ball)"/>
<circle cx="2403.6" cy="2688" r="21" fill="url(#ball)"/>
<polygon points="454.9,2011.5 479.9,2014.2 504.9,2017 529.9,2019.7 554.9,2022.5 579.8,2025.2 604.8,2027.9 629.8,2030.6 654.8,2033.2 679.8,2035.9 704.8,2038.5 729.7,2041.2 754.7,2043.8 779.7,2046.4 804.7,2049 829.7,2051.5 854.7,2054.1 879.6,2056.6 904.6,2059.1 929.6,2061.6 954.6,2064.1 979.6,2066.6 1004.5,2069.1 1029.5,2071.5 1054.5,2073.9 1079.5,2076.3 1104.5,2078.7 1129.5,2081.1 1154.4,2083.5 1179.4,2085.8 1204.4,2088.1 1229.4,2090.5 1254.4,2092.8 1279.4,2095 1304.3,2097.3 1329.3,2099.6 1354.3,2101.8 1379.3,2104 1404.3,2106.2 1429.2,2108.4 1454.2,2110.6 1479.2,2112.7 1504.2,2114.9 1529.2,2117 1554.2,2119.1 1579.1,2121.2 1604.1,2123.3 1629.1,2125.3 1654.1,2127.4 1679.1,2129.4 1704.1,2131.4 1729,2133.4 1754,2135.4 1779,2137.4 1804,2139.3 1829,2141.2 1854,2143.2 1878.9,2145.1 1903.9,2146.9 1928.9,2148.8 1953.9,2150.7 1978.9,2152.5 2003.8,2154.3 2028.8,2156.1 2053.8,2157.9 2078.8,2159.7 2103.8,2161.5 2128.8,2163.2 2153.7,2165 2178.7,2166.7 2203.7,2168.4 2228.7,2170.1 2253.7,2171.7 2278.7,2173.4 2303.6,2175 2328.6,2176.7 2353.6,2178.3 2378.6,2179.9 2403.6,2181.5 2403.6,2904.5 2378.6,2901.8 2353.6,2899 2328.6,2896.3 2303.6,2893.5 2278.7,2890.8 2253.7,2888.1 2228.7,2885.4 2203.7,2882.8 2178.7,2880.1 2153.7,2877.5 2128.8,2874.8 2103.8,2872.2 2078.8,2869.6 2053.8,2867 2028.8,2864.5 2003.8,2861.9 1978.9,2859.4 1953.9,2856.9 1928.9,2854.4 1903.9,2851.9 1878.9,2849.4 1854,2846.9 1829,2844.5 1804,2842.1 1779,2839.7 1754,2837.3 1729,2834.9 1704.1,2832.5 1679.1,2830.2 1654.1,2827.9 1629.1,2825.5 1604.1,2823.2 1579.1,2821 1554.2,2818.7 1529.2,2816.4 1504.2,2814.2 1479.2,2812 1454.2,2809.8 1429.2,2807.6 1404.3,2805.4 1379.3,2803.3 1354.3,2801.1 1329.3,2799 1304.3,2796.9 1279.4,2794.8 1254.4,2792.7 1229.4,2790.7 1204.4,2788.6 1179.4,2786.6 1154.4,2784.6 1129.5,2782.6 1104.5,2780.6 1079.5,2778.6 1054.5,2776.7 1029.5,2774.8 1004.5,2772.8 979.6,2770.9 954.6,2769.1 929.6,2767.2 904.6,2765.3 879.6,2763.5 854.7,2761.7 829.7,2759.9 804.7,2758.1 779.7,2756.3 754.7,2754.5 729.7,2752.8 704.8,2751 679.8,2749.3 654.8,2747.6 629.8,2745.9 604.8,2744.3 579.8,2742.6 554.9,2741 529.9,2739.3 504.9,2737.7 479.9,2736.1 454.9,2734.5" fill="#FFFF7D" fill-opacity="0.20"/>
<polygon points="454.9,2265.8 479.9,2270 504.9,2274.2 529.9,2278.4 554.9,2282.6 579.8,2286.7 604.8,2290.8 629.8,2294.9 654.8,2299 679.8,2303.1 704.8,2307.1 729.7,2311.2 754.7,2315.1 779.7,2319.1 804.7,2323 829.7,2326.9 854.7,2330.8 879.6,2334.6 904.6,2338.4 929.6,2342.2 954.6,2345.9 979.6,2349.5 1004.5,2353.1 1029.5,2356.7 1054.5,2360.2 1079.5,2363.6 1104.5,2367 1129.5,2370.3 1154.4,2373.5 1179.4,2376.7 1204.4,2379.8 1229.4,2382.8 1254.4,2385.7 1279.4,2388.5 1304.3,2391.2 1329.3,2393.9 1354.3,2396.4 1379.3,2398.8 1404.3,2401.2 1429.2,2403.4 1454.2,2405.5 1479.2,2407.6 1504.2,2409.5 1529.2,2411.3 1554.2,2413 1579.1,2414.7 1604.1,2416.2 1629.1,2417.7 1654.1,2419 1679.1,2420.3 1704.1,2421.5 1729,2422.6 1754,2423.7 1779,2424.7 1804,2425.6 1829,2426.4 1854,2427.3 1878.9,2428 1903.9,2428.7 1928.9,2429.4 1953.9,2430 1978.9,2430.5 2003.8,2431.1 2028.8,2431.6 2053.8,2432 2078.8,2432.4 2103.8,2432.8 2128.8,2433.2 2153.7,2433.5 2178.7,2433.9 2203.7,2434.2 2228.7,2434.4 2253.7,2434.7 2278.7,2434.9 2303.6,2435.1 2328.6,2435.3 2353.6,2435.5 2378.6,2435.7 2403.6,2435.8 2403.6,2650.2 2378.6,2646 2353.6,2641.8 2328.6,2637.6 2303.6,2633.4 2278.7,2629.3 2253.7,2625.2 2228.7,2621.1 2203.7,2617 2178.7,2612.9 2153.7,2608.9 2128.8,2604.8 2103.8,2600.9 2078.8,2596.9 2053.8,2593 2028.8,2589.1 2003.8,2585.2 1978.9,2581.4 1953.9,2577.6 1928.9,2573.8 1903.9,2570.1 1878.9,2566.5 1854,2562.9 1829,2559.3 1804,2555.8 1779,2552.4 1754,2549 1729,2545.7 1704.1,2542.5 1679.1,2539.3 1654.1,2536.2 1629.1,2533.2 1604.1,2530.3 1579.1,2527.5 1554.2,2524.8 1529.2,2522.1 1504.2,2519.6 1479.2,2517.2 1454.2,2514.8 1429.2,2512.6 1404.3,2510.5 1379.3,2508.4 1354.3,2506.5 1329.3,2504.7 1304.3,2503 1279.4,2501.3 1254.4,2499.8 1229.4,2498.3 1204.4,2497 1179.4,2495.7 1154.4,2494.5 1129.5,2493.4 1104.5,2492.3 1079.5,2491.3 1054.5,2490.4 1029.5,2489.6 1004.5,2488.7 979.6,2488 954.6,2487.3 929.6,2486.6 904.6,2486 879.6,2485.5 854.7,2484.9 829.7,2484.4 804.7,2484 779.7,2483.6 754.7,2483.2 729.7,2482.8 704.8,2482.5 679.8,2482.1 654.8,2481.8 629.8,2481.6 604.8,2481.3 579.8,2481.1 554.9,2480.9 529.9,2480.7 504.9,2480.5 479.9,2480.3 454.9,2480.2" fill="#918A13" fill-opacity="0.30"/>
<line x1="454.9" y1="2373" x2="2403.6" y2="2543" stroke="#808000" stroke-width="1.4" />
<rect x="355" y="1824" width="2148.5" height="1414" fill="none" stroke="#000" stroke-width="6"/>
<line x1="321" y1="3238" x2="355" y2="3238" stroke="#000" stroke-width="6" />
<text x="296" y="3260.5" font-size="77" text-anchor="end" >0.0</text>
<line x1="338" y1="3096.6" x2="355" y2="3096.6" stroke="#000" stroke-width="6" />
<line x1="321" y1="2955.2" x2="355" y2="2955.2" stroke="#000" stroke-width="6" />
<text x="296" y="2977.7" font-size="77" text-anchor="end" >0.1</text>
<line x1="338" y1="2813.8" x2="355" y2="2813.8" stroke="#000" stroke-width="6" />
<line x1="321" y1="2672.4" x2="355" y2="2672.4" stroke="#000" stroke-width="6" />
<text x="296" y="2694.9" font-size="77" text-anchor="end" >0.2</text>
<line x1="338" y1="2531" x2="355" y2="2531" stroke="#000" stroke-width="6" />
<line x1="321" y1="2389.6" x2="355" y2="2389.6" stroke="#000" stroke-width="6" />
<text x="296" y="2412.1" font-size="77" text-anchor="end" >0.3</text>
<line x1="338" y1="2248.2" x2="355" y2="2248.2" stroke="#000" stroke-width="6" />
<line x1="321" y1="2106.8" x2="355" y2="2106.8" stroke="#000" stroke-width="6" />
<text x="296" y="2129.3" font-size="77" text-anchor="end" >0.4</text>
<line x1="338" y1="1965.4" x2="355" y2="1965.4" stroke="#000" stroke-width="6" />
<line x1="321" y1="1824" x2="355" y2="1824" stroke="#000" stroke-width="6" />
<text x="296" y="1846.5" font-size="77" text-anchor="end" >0.5</text>
<line x1="504.9" y1="3238" x2="504.9" y2="3255" stroke="#000" stroke-width="6" />
<line x1="754.7" y1="3238" x2="754.7" y2="3272" stroke="#000" stroke-width="6" />
<text x="754.7" y="3354" font-size="77" text-anchor="middle" >1990</text>
<line x1="1004.5" y1="3238" x2="1004.5" y2="3255" stroke="#000" stroke-width="6" />
<line x1="1254.4" y1="3238" x2="1254.4" y2="3272" stroke="#000" stroke-width="6" />
<text x="1254.4" y="3354" font-size="77" text-anchor="middle" >2000</text>
<line x1="1504.2" y1="3238" x2="1504.2" y2="3255" stroke="#000" stroke-width="6" />
<line x1="1754" y1="3238" x2="1754" y2="3272" stroke="#000" stroke-width="6" />
<text x="1754" y="3354" font-size="77" text-anchor="middle" >2010</text>
<line x1="2003.8" y1="3238" x2="2003.8" y2="3255" stroke="#000" stroke-width="6" />
<line x1="2253.7" y1="3238" x2="2253.7" y2="3272" stroke="#000" stroke-width="6" />
<text x="2253.7" y="3354" font-size="77" text-anchor="middle" >2020</text>
<line x1="2503.5" y1="3238" x2="2503.5" y2="3255" stroke="#000" stroke-width="6" />
<text x="1438.2" y="3467" font-size="95" text-anchor="middle" >Year</text>
<text x="162.1" y="2532" font-size="103" text-anchor="middle" transform="rotate(-90 162.1 2532)" >AI</text>
<text x="442.3" y="1970.6" font-size="134" text-anchor="start" >(c)</text>
<text x="1928" y="1924.9" font-size="61.3" text-anchor="start" >y=-0.0015x+0.3076</text>
<text x="1928" y="2009.3" font-size="61.3" xml:space="preserve">R<tspan dy="-25" font-size="42">2</tspan><tspan dy="25">=0.084   P=0.07</tspan></text>
<rect x="453.3" y="2913.9" width="645.5" height="279.8" fill="#fff" stroke="#000" stroke-width="2"/>
<line x1="461.4" y1="2951" x2="586.1" y2="2951" stroke="#000" stroke-width="2" />
<circle cx="523" cy="2951" r="21" fill="url(#ball)"/>
<line x1="461.4" y1="3020.5" x2="586.1" y2="3020.5" stroke="#808000" stroke-width="1.4" />
<rect x="462" y="3058" width="122" height="59.7" fill="#706200" fill-opacity="0.30"/>
<rect x="462" y="3127.2" width="122" height="59.1" fill="#FFFF7D" fill-opacity="0.20"/>
<text x="597" y="2969.9" font-size="55.5" text-anchor="start" >AI</text>
<text x="597" y="3038.5" font-size="55.5" text-anchor="start" >Fitted line</text>
<text x="597" y="3106.5" font-size="55.5" text-anchor="start" >95% Confidence band</text>
<text x="597" y="3175" font-size="55.5" text-anchor="start" >95% Prediction band</text>
</g>
<g id="panel-d">
<path d="M2920,2306.5L2920.2,2309.5L2920.3,2312.5L2920.5,2315.5L2920.7,2318.5L2920.9,2321.5L2921.2,2324.5L2921.4,2327.5L2921.7,2330.5L2922,2333.5L2922.3,2336.5L2922.6,2339.5L2922.9,2342.5L2923.3,2345.5L2923.7,2348.5L2924,2351.5L2924.4,2354.5L2924.8,2357.5L2925.2,2360.5L2925.6,2363.5L2926.1,2366.5L2926.5,2369.5L2926.9,2372.5L2927.3,2375.5L2927.7,2378.5L2928.1,2381.5L2928.6,2384.5L2929,2387.5L2929.4,2390.5L2929.8,2393.5L2930.2,2396.5L2930.6,2399.5L2931,2402.5L2931.3,2405.5L2931.7,2408.5L2932.1,2411.5L2932.5,2414.5L2932.9,2417.5L2933.3,2420.5L2933.7,2423.5L2934.1,2426.5L2934.5,2429.5L2934.9,2432.5L2935.3,2435.5L2935.7,2438.5L2936.2,2441.5L2936.6,2444.5L2937,2447.5L2937.5,2450.5L2938,2453.5L2938.4,2456.5L2938.9,2459.5L2939.4,2462.5L2939.9,2465.5L2940.3,2468.5L2940.8,2471.5L2941.3,2474.5L2941.8,2477.5L2942.3,2480.5L2942.8,2483.5L2943.3,2486.5L2943.7,2489.5L2944.2,2492.5L2944.7,2495.5L2945.1,2498.5L2945.5,2501.5L2946,2504.5L2946.4,2507.5L2946.8,2510.5L2947.1,2513.5L2947.5,2516.5L2947.9,2519.5L2948.2,2522.5L2948.5,2525.5L2948.8,2528.5L2949.1,2531.5L2949.4,2534.5L2949.7,2537.5L2949.9,2540.5L2950.2,2543.5L2950.4,2546.5L2950.7,2549.5L2950.9,2552.5L2951.1,2555.5L2951.3,2558.5L2951.5,2561.5L2951.7,2564.5L2951.9,2567.5L2952.1,2570.5L2952.3,2573.5L2952.4,2576.5L2952.6,2579.5L2952.7,2582.5L2952.9,2585.5L2953,2588.5L2953.2,2591.5L2953.3,2594.5L2953.4,2597.5L2953.5,2600.5L2953.7,2603.5L2953.8,2606.5L2954,2609.5L2954.2,2612.5L2954.4,2615.5L2954.6,2618.5L2954.8,2621.5L2955.1,2624.5L2955.5,2627.5L2955.8,2630.5L2956.3,2633.5L2956.7,2636.5L2957.2,2639.5L2957.8,2642.5L2958.4,2645.5L2959,2648.5L2959.7,2651.5L2960.4,2654.5L2961.2,2657.5L2962,2660.5L2962.8,2663.5L2963.7,2666.5L2964.6,2669.5L2965.5,2672.5L2966.5,2675.5L2967.4,2678.5L2968.4,2681.5L2969.4,2684.5L2970.5,2687.5L2971.5,2690.5L2972.6,2693.5L2973.8,2696.5L2975,2699.5L2976.2,2702.5L2977.5,2705.5L2978.9,2708.5L2980.3,2711.5L2981.8,2714.5L2983.4,2717.5L2985.1,2720.5L2986.8,2723.5L2988.6,2726.5L2990.6,2729.5L2992.6,2732.5L2994.7,2735.5L2996.9,2738.5L2999.2,2741.5L3001.6,2744.5L3004.1,2747.5L3006.7,2750.5L3009.3,2753.5L3012.1,2756.5L3014.9,2759.5L3017.8,2762.5L3020.8,2765.5L3023.8,2768.5L3026.9,2771.5L3030.2,2774.5L3033.4,2777.5L3036.8,2780.5L3040.2,2783.5L3043.7,2786.5L3047.3,2789.5L3050.9,2792.5L3054.6,2795.5L3058.3,2798.5L3062.1,2801.5L3065.9,2804.5L3069.7,2807.5L3073.5,2810.5L3077.3,2813.5L3081,2816.5L3084.7,2819.5L3088.4,2822.5L3091.9,2825.5L3095.4,2828.5L3098.8,2831.5L3102,2834.5L3105.1,2837.5L3108,2840.5L3110.8,2843.5L3113.4,2846.5L3115.9,2849.5L3118.1,2852.5L3120.2,2855.5L3122.2,2858.5L3123.9,2861.5L3125.5,2864.5L3127,2867.5L3128.3,2870.5L3129.4,2873.5L3130.5,2876.5L3131.3,2879.5L3132.1,2882.5L3132.7,2885.5L3133.2,2888.5L3133.6,2891.5L3133.9,2894.5L3134,2897.5L3134,2900.5L3133.9,2903.5L3133.7,2906.5L3133.3,2909.5L3132.7,2912.5L3132,2915.5L3131.1,2918.5L3130,2921.5L3128.7,2924.5L3127.2,2927.5L3125.6,2930.5L3123.7,2933.5L3121.6,2936.5L3119.4,2939.5L3116.9,2942.5L3114.2,2945.5L3111.4,2948.5L3108.3,2951.5L3105.1,2954.5L3101.8,2957.5L3098.3,2960.5L3094.7,2963.5L3091,2966.5L3087.2,2969.5L3083.3,2972.5L3079.3,2975.5L3075.3,2978.5L3071.2,2981.5L3067.1,2984.5L3063,2987.5L3058.9,2990.5L3054.8,2993.5L3050.6,2996.5L3046.5,2999.5L3042.4,3002.5L3038.3,3005.5L3034.3,3008.5L3030.2,3011.5L3026.2,3014.5L3022.3,3017.5L3018.3,3020.5L3014.4,3023.5L3010.6,3026.5L3006.8,3029.5L3003,3032.5L2999.3,3035.5L2995.7,3038.5L2992.2,3041.5L2988.7,3044.5L2985.3,3047.5L2982,3050.5L2978.8,3053.5L2975.7,3056.5L2972.7,3059.5L2969.8,3062.5L2967,3065.5L2964.3,3068.5L2961.7,3071.5L2959.2,3074.5L2956.8,3077.5L2954.5,3080.5L2952.4,3083.5L2950.3,3086.5L2948.3,3089.5L2946.4,3092.5L2944.6,3095.5L2944.2,3096L2893.8,3096L2893.4,3095.5L2891.6,3092.5L2889.7,3089.5L2887.7,3086.5L2885.6,3083.5L2883.5,3080.5L2881.2,3077.5L2878.8,3074.5L2876.3,3071.5L2873.7,3068.5L2871,3065.5L2868.2,3062.5L2865.3,3059.5L2862.3,3056.5L2859.2,3053.5L2856,3050.5L2852.7,3047.5L2849.3,3044.5L2845.8,3041.5L2842.3,3038.5L2838.7,3035.5L2835,3032.5L2831.2,3029.5L2827.4,3026.5L2823.6,3023.5L2819.7,3020.5L2815.7,3017.5L2811.8,3014.5L2807.8,3011.5L2803.7,3008.5L2799.7,3005.5L2795.6,3002.5L2791.5,2999.5L2787.4,2996.5L2783.2,2993.5L2779.1,2990.5L2775,2987.5L2770.9,2984.5L2766.8,2981.5L2762.7,2978.5L2758.7,2975.5L2754.7,2972.5L2750.8,2969.5L2747,2966.5L2743.3,2963.5L2739.7,2960.5L2736.2,2957.5L2732.9,2954.5L2729.7,2951.5L2726.6,2948.5L2723.8,2945.5L2721.1,2942.5L2718.6,2939.5L2716.4,2936.5L2714.3,2933.5L2712.4,2930.5L2710.8,2927.5L2709.3,2924.5L2708,2921.5L2706.9,2918.5L2706,2915.5L2705.3,2912.5L2704.7,2909.5L2704.3,2906.5L2704.1,2903.5L2704,2900.5L2704,2897.5L2704.1,2894.5L2704.4,2891.5L2704.8,2888.5L2705.3,2885.5L2705.9,2882.5L2706.7,2879.5L2707.5,2876.5L2708.6,2873.5L2709.7,2870.5L2711,2867.5L2712.5,2864.5L2714.1,2861.5L2715.8,2858.5L2717.8,2855.5L2719.9,2852.5L2722.1,2849.5L2724.6,2846.5L2727.2,2843.5L2730,2840.5L2732.9,2837.5L2736,2834.5L2739.2,2831.5L2742.6,2828.5L2746.1,2825.5L2749.6,2822.5L2753.3,2819.5L2757,2816.5L2760.7,2813.5L2764.5,2810.5L2768.3,2807.5L2772.1,2804.5L2775.9,2801.5L2779.7,2798.5L2783.4,2795.5L2787.1,2792.5L2790.7,2789.5L2794.3,2786.5L2797.8,2783.5L2801.2,2780.5L2804.6,2777.5L2807.8,2774.5L2811.1,2771.5L2814.2,2768.5L2817.2,2765.5L2820.2,2762.5L2823.1,2759.5L2825.9,2756.5L2828.7,2753.5L2831.3,2750.5L2833.9,2747.5L2836.4,2744.5L2838.8,2741.5L2841.1,2738.5L2843.3,2735.5L2845.4,2732.5L2847.4,2729.5L2849.4,2726.5L2851.2,2723.5L2852.9,2720.5L2854.6,2717.5L2856.2,2714.5L2857.7,2711.5L2859.1,2708.5L2860.5,2705.5L2861.8,2702.5L2863,2699.5L2864.2,2696.5L2865.4,2693.5L2866.5,2690.5L2867.5,2687.5L2868.6,2684.5L2869.6,2681.5L2870.6,2678.5L2871.5,2675.5L2872.5,2672.5L2873.4,2669.5L2874.3,2666.5L2875.2,2663.5L2876,2660.5L2876.8,2657.5L2877.6,2654.5L2878.3,2651.5L2879,2648.5L2879.6,2645.5L2880.2,2642.5L2880.8,2639.5L2881.3,2636.5L2881.7,2633.5L2882.2,2630.5L2882.5,2627.5L2882.9,2624.5L2883.2,2621.5L2883.4,2618.5L2883.6,2615.5L2883.8,2612.5L2884,2609.5L2884.2,2606.5L2884.3,2603.5L2884.5,2600.5L2884.6,2597.5L2884.7,2594.5L2884.8,2591.5L2885,2588.5L2885.1,2585.5L2885.3,2582.5L2885.4,2579.5L2885.6,2576.5L2885.7,2573.5L2885.9,2570.5L2886.1,2567.5L2886.3,2564.5L2886.5,2561.5L2886.7,2558.5L2886.9,2555.5L2887.1,2552.5L2887.3,2549.5L2887.6,2546.5L2887.8,2543.5L2888.1,2540.5L2888.3,2537.5L2888.6,2534.5L2888.9,2531.5L2889.2,2528.5L2889.5,2525.5L2889.8,2522.5L2890.1,2519.5L2890.5,2516.5L2890.9,2513.5L2891.2,2510.5L2891.6,2507.5L2892,2504.5L2892.5,2501.5L2892.9,2498.5L2893.3,2495.5L2893.8,2492.5L2894.3,2489.5L2894.7,2486.5L2895.2,2483.5L2895.7,2480.5L2896.2,2477.5L2896.7,2474.5L2897.2,2471.5L2897.7,2468.5L2898.1,2465.5L2898.6,2462.5L2899.1,2459.5L2899.6,2456.5L2900,2453.5L2900.5,2450.5L2901,2447.5L2901.4,2444.5L2901.8,2441.5L2902.3,2438.5L2902.7,2435.5L2903.1,2432.5L2903.5,2429.5L2903.9,2426.5L2904.3,2423.5L2904.7,2420.5L2905.1,2417.5L2905.5,2414.5L2905.9,2411.5L2906.3,2408.5L2906.7,2405.5L2907,2402.5L2907.4,2399.5L2907.8,2396.5L2908.2,2393.5L2908.6,2390.5L2909,2387.5L2909.4,2384.5L2909.9,2381.5L2910.3,2378.5L2910.7,2375.5L2911.1,2372.5L2911.5,2369.5L2911.9,2366.5L2912.4,2363.5L2912.8,2360.5L2913.2,2357.5L2913.6,2354.5L2914,2351.5L2914.3,2348.5L2914.7,2345.5L2915.1,2342.5L2915.4,2339.5L2915.7,2336.5L2916,2333.5L2916.3,2330.5L2916.6,2327.5L2916.8,2324.5L2917.1,2321.5L2917.3,2318.5L2917.5,2315.5L2917.7,2312.5L2917.8,2309.5L2918,2306.5Z" fill="#FFCE9E"/>
<rect x="2904" y="2796.4" width="30" height="150.2" fill="#B5560B"/>
<circle cx="2919" cy="2881.6" r="10.5" fill="#fff"/>
<path d="M3461.6,1965.7L3461.8,1968.7L3462.1,1971.7L3462.4,1974.7L3462.7,1977.7L3463,1980.7L3463.4,1983.7L3463.8,1986.7L3464.2,1989.7L3464.6,1992.7L3465,1995.7L3465.5,1998.7L3466,2001.7L3466.5,2004.7L3467,2007.7L3467.6,2010.7L3468.2,2013.7L3468.8,2016.7L3469.5,2019.7L3470.2,2022.7L3470.9,2025.7L3471.6,2028.7L3472.4,2031.7L3473.1,2034.7L3473.9,2037.7L3474.8,2040.7L3475.6,2043.7L3476.5,2046.7L3477.3,2049.7L3478.2,2052.7L3479.2,2055.7L3480.1,2058.7L3481,2061.7L3482,2064.7L3482.9,2067.7L3483.9,2070.7L3484.8,2073.7L3485.8,2076.7L3486.7,2079.7L3487.7,2082.7L3488.7,2085.7L3489.6,2088.7L3490.6,2091.7L3491.6,2094.7L3492.5,2097.7L3493.5,2100.7L3494.5,2103.7L3495.4,2106.7L3496.4,2109.7L3497.3,2112.7L3498.3,2115.7L3499.3,2118.7L3500.3,2121.7L3501.2,2124.7L3502.2,2127.7L3503.2,2130.7L3504.3,2133.7L3505.3,2136.7L3506.3,2139.7L3507.4,2142.7L3508.5,2145.7L3509.6,2148.7L3510.7,2151.7L3511.8,2154.7L3513,2157.7L3514.2,2160.7L3515.4,2163.7L3516.6,2166.7L3517.8,2169.7L3519.1,2172.7L3520.4,2175.7L3521.7,2178.7L3523,2181.7L3524.4,2184.7L3525.7,2187.7L3527.1,2190.7L3528.5,2193.7L3529.9,2196.7L3531.3,2199.7L3532.8,2202.7L3534.2,2205.7L3535.7,2208.7L3537.1,2211.7L3538.6,2214.7L3540.1,2217.7L3541.6,2220.7L3543.1,2223.7L3544.6,2226.7L3546.1,2229.7L3547.6,2232.7L3549.2,2235.7L3550.7,2238.7L3552.3,2241.7L3553.8,2244.7L3555.4,2247.7L3557,2250.7L3558.6,2253.7L3560.2,2256.7L3561.8,2259.7L3563.4,2262.7L3565.1,2265.7L3566.7,2268.7L3568.4,2271.7L3570.1,2274.7L3571.8,2277.7L3573.5,2280.7L3575.2,2283.7L3576.9,2286.7L3578.6,2289.7L3580.4,2292.7L3582.1,2295.7L3583.9,2298.7L3585.6,2301.7L3587.4,2304.7L3589.1,2307.7L3590.9,2310.7L3592.7,2313.7L3594.4,2316.7L3596.2,2319.7L3597.9,2322.7L3599.7,2325.7L3601.4,2328.7L3603.1,2331.7L3604.9,2334.7L3606.6,2337.7L3608.3,2340.7L3610,2343.7L3611.7,2346.7L3613.4,2349.7L3615,2352.7L3616.7,2355.7L3618.3,2358.7L3620,2361.7L3621.6,2364.7L3623.2,2367.7L3624.8,2370.7L3626.4,2373.7L3627.9,2376.7L3629.5,2379.7L3631,2382.7L3632.5,2385.7L3634,2388.7L3635.5,2391.7L3636.9,2394.7L3638.3,2397.7L3639.7,2400.7L3641.1,2403.7L3642.5,2406.7L3643.8,2409.7L3645.1,2412.7L3646.4,2415.7L3647.6,2418.7L3648.8,2421.7L3650,2424.7L3651.1,2427.7L3652.2,2430.7L3653.3,2433.7L3654.4,2436.7L3655.4,2439.7L3656.4,2442.7L3657.3,2445.7L3658.2,2448.7L3659.2,2451.7L3660,2454.7L3660.9,2457.7L3661.7,2460.7L3662.5,2463.7L3663.2,2466.7L3664,2469.7L3664.7,2472.7L3665.4,2475.7L3666,2478.7L3666.6,2481.7L3667.2,2484.7L3667.8,2487.7L3668.3,2490.7L3668.8,2493.7L3669.2,2496.7L3669.6,2499.7L3670,2502.7L3670.3,2505.7L3670.6,2508.7L3670.9,2511.7L3671.1,2514.7L3671.2,2517.7L3671.3,2520.7L3671.4,2523.7L3671.4,2526.7L3671.3,2529.7L3671.2,2532.7L3671.1,2535.7L3670.9,2538.7L3670.6,2541.7L3670.3,2544.7L3670,2547.7L3669.6,2550.7L3669.1,2553.7L3668.6,2556.7L3668.1,2559.7L3667.5,2562.7L3666.9,2565.7L3666.2,2568.7L3665.6,2571.7L3664.8,2574.7L3664,2577.7L3663.2,2580.7L3662.4,2583.7L3661.5,2586.7L3660.7,2589.7L3659.7,2592.7L3658.8,2595.7L3657.8,2598.7L3656.8,2601.7L3655.8,2604.7L3654.8,2607.7L3653.7,2610.7L3652.6,2613.7L3651.5,2616.7L3650.4,2619.7L3649.2,2622.7L3648.1,2625.7L3646.9,2628.7L3645.7,2631.7L3644.5,2634.7L3643.3,2637.7L3642.1,2640.7L3640.9,2643.7L3639.7,2646.7L3638.5,2649.7L3637.2,2652.7L3636,2655.7L3634.8,2658.7L3633.6,2661.7L3632.4,2664.7L3631.3,2667.7L3630.1,2670.7L3629,2673.7L3627.9,2676.7L3626.8,2679.7L3625.7,2682.7L3624.7,2685.7L3623.7,2688.7L3622.7,2691.7L3621.8,2694.7L3620.9,2697.7L3620,2700.7L3619.2,2703.7L3618.4,2706.7L3617.6,2709.7L3616.9,2712.7L3616.2,2715.7L3615.5,2718.7L3614.8,2721.7L3614.2,2724.7L3613.6,2727.7L3613,2730.7L3612.4,2733.7L3611.8,2736.7L3611.3,2739.7L3610.7,2742.7L3610.2,2745.7L3609.7,2748.7L3609.1,2751.7L3608.5,2754.7L3608,2757.7L3607.4,2760.7L3606.8,2763.7L3606.2,2766.7L3605.6,2769.7L3604.9,2772.7L3604.2,2775.7L3603.5,2778.7L3602.8,2781.7L3602,2784.7L3601.2,2787.7L3600.3,2790.7L3599.4,2793.7L3598.5,2796.7L3597.6,2799.7L3596.5,2802.7L3595.5,2805.7L3594.4,2808.7L3593.3,2811.7L3592.1,2814.7L3590.9,2817.7L3589.6,2820.7L3588.3,2823.7L3586.9,2826.7L3585.5,2829.7L3584.1,2832.7L3582.6,2835.7L3581.1,2838.7L3579.5,2841.7L3577.9,2844.7L3576.3,2847.7L3574.6,2850.7L3572.9,2853.7L3571.1,2856.7L3569.3,2859.7L3567.5,2862.7L3565.7,2865.7L3563.8,2868.7L3561.9,2871.7L3560,2874.7L3558,2877.7L3556.1,2880.7L3554.1,2883.7L3552.1,2886.7L3550.1,2889.7L3548.1,2892.7L3546.1,2895.7L3544.1,2898.7L3542.1,2901.7L3540.1,2904.7L3538,2907.7L3536,2910.7L3534,2913.7L3532.1,2916.7L3530.1,2919.7L3528.1,2922.7L3526.2,2925.7L3524.3,2928.7L3522.3,2931.7L3520.4,2934.7L3518.6,2937.7L3516.7,2940.7L3514.9,2943.7L3513.1,2946.7L3511.3,2949.7L3509.6,2952.7L3507.8,2955.7L3506.1,2958.7L3504.4,2961.7L3502.8,2964.7L3501.1,2967.7L3499.5,2970.7L3497.9,2973.7L3496.4,2976.7L3494.8,2979.7L3493.3,2982.7L3491.9,2985.7L3490.4,2988.7L3489,2991.7L3487.6,2994.7L3486.2,2997.7L3484.9,3000.7L3483.6,3003.7L3482.3,3006.7L3481,3009.7L3479.8,3012.7L3478.6,3015.7L3477.5,3018.7L3476.3,3021.7L3475.3,3024.7L3474.2,3027.7L3473.2,3030.7L3472.2,3033.7L3471.2,3036.7L3470.3,3039.7L3469.4,3042.7L3468.6,3045.7L3467.8,3048.7L3467,3051.7L3466.3,3054.7L3465.6,3057.7L3464.9,3060.7L3464.3,3063.7L3463.7,3066.7L3463.1,3069.7L3462.6,3072.7L3462.1,3075.7L3461.6,3078.7L3461.1,3081.7L3460.7,3084.7L3460.3,3087.7L3460,3090.7L3459.7,3093.7L3459.4,3096.2L3453.2,3096.2L3452.9,3093.7L3452.6,3090.7L3452.3,3087.7L3451.9,3084.7L3451.5,3081.7L3451,3078.7L3450.5,3075.7L3450,3072.7L3449.5,3069.7L3448.9,3066.7L3448.3,3063.7L3447.7,3060.7L3447,3057.7L3446.3,3054.7L3445.6,3051.7L3444.8,3048.7L3444,3045.7L3443.2,3042.7L3442.3,3039.7L3441.4,3036.7L3440.4,3033.7L3439.4,3030.7L3438.4,3027.7L3437.3,3024.7L3436.3,3021.7L3435.1,3018.7L3434,3015.7L3432.8,3012.7L3431.6,3009.7L3430.3,3006.7L3429,3003.7L3427.7,3000.7L3426.4,2997.7L3425,2994.7L3423.6,2991.7L3422.2,2988.7L3420.7,2985.7L3419.3,2982.7L3417.8,2979.7L3416.2,2976.7L3414.7,2973.7L3413.1,2970.7L3411.5,2967.7L3409.8,2964.7L3408.2,2961.7L3406.5,2958.7L3404.8,2955.7L3403,2952.7L3401.3,2949.7L3399.5,2946.7L3397.7,2943.7L3395.9,2940.7L3394,2937.7L3392.2,2934.7L3390.3,2931.7L3388.3,2928.7L3386.4,2925.7L3384.5,2922.7L3382.5,2919.7L3380.5,2916.7L3378.6,2913.7L3376.6,2910.7L3374.6,2907.7L3372.5,2904.7L3370.5,2901.7L3368.5,2898.7L3366.5,2895.7L3364.5,2892.7L3362.5,2889.7L3360.5,2886.7L3358.5,2883.7L3356.5,2880.7L3354.6,2877.7L3352.6,2874.7L3350.7,2871.7L3348.8,2868.7L3346.9,2865.7L3345.1,2862.7L3343.3,2859.7L3341.5,2856.7L3339.7,2853.7L3338,2850.7L3336.3,2847.7L3334.7,2844.7L3333.1,2841.7L3331.5,2838.7L3330,2835.7L3328.5,2832.7L3327.1,2829.7L3325.7,2826.7L3324.3,2823.7L3323,2820.7L3321.7,2817.7L3320.5,2814.7L3319.3,2811.7L3318.2,2808.7L3317.1,2805.7L3316.1,2802.7L3315,2799.7L3314.1,2796.7L3313.2,2793.7L3312.3,2790.7L3311.4,2787.7L3310.6,2784.7L3309.8,2781.7L3309.1,2778.7L3308.4,2775.7L3307.7,2772.7L3307,2769.7L3306.4,2766.7L3305.8,2763.7L3305.2,2760.7L3304.6,2757.7L3304.1,2754.7L3303.5,2751.7L3302.9,2748.7L3302.4,2745.7L3301.9,2742.7L3301.3,2739.7L3300.8,2736.7L3300.2,2733.7L3299.6,2730.7L3299,2727.7L3298.4,2724.7L3297.8,2721.7L3297.1,2718.7L3296.4,2715.7L3295.7,2712.7L3295,2709.7L3294.2,2706.7L3293.4,2703.7L3292.6,2700.7L3291.7,2697.7L3290.8,2694.7L3289.9,2691.7L3288.9,2688.7L3287.9,2685.7L3286.9,2682.7L3285.8,2679.7L3284.7,2676.7L3283.6,2673.7L3282.5,2670.7L3281.3,2667.7L3280.2,2664.7L3279,2661.7L3277.8,2658.7L3276.6,2655.7L3275.4,2652.7L3274.1,2649.7L3272.9,2646.7L3271.7,2643.7L3270.5,2640.7L3269.3,2637.7L3268.1,2634.7L3266.9,2631.7L3265.7,2628.7L3264.5,2625.7L3263.4,2622.7L3262.2,2619.7L3261.1,2616.7L3260,2613.7L3258.9,2610.7L3257.8,2607.7L3256.8,2604.7L3255.8,2601.7L3254.8,2598.7L3253.8,2595.7L3252.9,2592.7L3251.9,2589.7L3251.1,2586.7L3250.2,2583.7L3249.4,2580.7L3248.6,2577.7L3247.8,2574.7L3247,2571.7L3246.4,2568.7L3245.7,2565.7L3245.1,2562.7L3244.5,2559.7L3244,2556.7L3243.5,2553.7L3243,2550.7L3242.6,2547.7L3242.3,2544.7L3242,2541.7L3241.7,2538.7L3241.5,2535.7L3241.4,2532.7L3241.3,2529.7L3241.2,2526.7L3241.2,2523.7L3241.3,2520.7L3241.4,2517.7L3241.5,2514.7L3241.7,2511.7L3242,2508.7L3242.3,2505.7L3242.6,2502.7L3243,2499.7L3243.4,2496.7L3243.8,2493.7L3244.3,2490.7L3244.8,2487.7L3245.4,2484.7L3246,2481.7L3246.6,2478.7L3247.2,2475.7L3247.9,2472.7L3248.6,2469.7L3249.4,2466.7L3250.1,2463.7L3250.9,2460.7L3251.7,2457.7L3252.6,2454.7L3253.4,2451.7L3254.4,2448.7L3255.3,2445.7L3256.2,2442.7L3257.2,2439.7L3258.2,2436.7L3259.3,2433.7L3260.4,2430.7L3261.5,2427.7L3262.6,2424.7L3263.8,2421.7L3265,2418.7L3266.2,2415.7L3267.5,2412.7L3268.8,2409.7L3270.1,2406.7L3271.5,2403.7L3272.9,2400.7L3274.3,2397.7L3275.7,2394.7L3277.1,2391.7L3278.6,2388.7L3280.1,2385.7L3281.6,2382.7L3283.1,2379.7L3284.7,2376.7L3286.2,2373.7L3287.8,2370.7L3289.4,2367.7L3291,2364.7L3292.6,2361.7L3294.3,2358.7L3295.9,2355.7L3297.6,2352.7L3299.2,2349.7L3300.9,2346.7L3302.6,2343.7L3304.3,2340.7L3306,2337.7L3307.7,2334.7L3309.5,2331.7L3311.2,2328.7L3312.9,2325.7L3314.7,2322.7L3316.4,2319.7L3318.2,2316.7L3319.9,2313.7L3321.7,2310.7L3323.5,2307.7L3325.2,2304.7L3327,2301.7L3328.7,2298.7L3330.5,2295.7L3332.2,2292.7L3334,2289.7L3335.7,2286.7L3337.4,2283.7L3339.1,2280.7L3340.8,2277.7L3342.5,2274.7L3344.2,2271.7L3345.9,2268.7L3347.5,2265.7L3349.2,2262.7L3350.8,2259.7L3352.4,2256.7L3354,2253.7L3355.6,2250.7L3357.2,2247.7L3358.8,2244.7L3360.3,2241.7L3361.9,2238.7L3363.4,2235.7L3365,2232.7L3366.5,2229.7L3368,2226.7L3369.5,2223.7L3371,2220.7L3372.5,2217.7L3374,2214.7L3375.5,2211.7L3376.9,2208.7L3378.4,2205.7L3379.8,2202.7L3381.3,2199.7L3382.7,2196.7L3384.1,2193.7L3385.5,2190.7L3386.9,2187.7L3388.2,2184.7L3389.6,2181.7L3390.9,2178.7L3392.2,2175.7L3393.5,2172.7L3394.8,2169.7L3396,2166.7L3397.2,2163.7L3398.4,2160.7L3399.6,2157.7L3400.8,2154.7L3401.9,2151.7L3403,2148.7L3404.1,2145.7L3405.2,2142.7L3406.3,2139.7L3407.3,2136.7L3408.3,2133.7L3409.4,2130.7L3410.4,2127.7L3411.4,2124.7L3412.3,2121.7L3413.3,2118.7L3414.3,2115.7L3415.3,2112.7L3416.2,2109.7L3417.2,2106.7L3418.1,2103.7L3419.1,2100.7L3420.1,2097.7L3421,2094.7L3422,2091.7L3423,2088.7L3423.9,2085.7L3424.9,2082.7L3425.9,2079.7L3426.8,2076.7L3427.8,2073.7L3428.7,2070.7L3429.7,2067.7L3430.6,2064.7L3431.6,2061.7L3432.5,2058.7L3433.4,2055.7L3434.4,2052.7L3435.3,2049.7L3436.1,2046.7L3437,2043.7L3437.8,2040.7L3438.7,2037.7L3439.5,2034.7L3440.2,2031.7L3441,2028.7L3441.7,2025.7L3442.4,2022.7L3443.1,2019.7L3443.8,2016.7L3444.4,2013.7L3445,2010.7L3445.6,2007.7L3446.1,2004.7L3446.6,2001.7L3447.1,1998.7L3447.6,1995.7L3448,1992.7L3448.4,1989.7L3448.8,1986.7L3449.2,1983.7L3449.6,1980.7L3449.9,1977.7L3450.2,1974.7L3450.5,1971.7L3450.8,1968.7L3451,1965.7Z" fill="#A2DDA2"/>
<rect x="3441.3" y="2432.8" width="30" height="284.8" fill="#B5560B"/>
<circle cx="3456.3" cy="2554" r="10.5" fill="#fff"/>
<path d="M3994.7,2087.9L3994.8,2090.9L3995,2093.9L3995.1,2096.9L3995.3,2099.9L3995.5,2102.9L3995.7,2105.9L3995.9,2108.9L3996.1,2111.9L3996.3,2114.9L3996.6,2117.9L3996.8,2120.9L3997.1,2123.9L3997.4,2126.9L3997.7,2129.9L3998,2132.9L3998.4,2135.9L3998.7,2138.9L3999.1,2141.9L3999.5,2144.9L3999.9,2147.9L4000.3,2150.9L4000.7,2153.9L4001.2,2156.9L4001.6,2159.9L4002.1,2162.9L4002.6,2165.9L4003.1,2168.9L4003.6,2171.9L4004.1,2174.9L4004.6,2177.9L4005.1,2180.9L4005.6,2183.9L4006.2,2186.9L4006.7,2189.9L4007.3,2192.9L4007.8,2195.9L4008.4,2198.9L4008.9,2201.9L4009.5,2204.9L4010.1,2207.9L4010.6,2210.9L4011.2,2213.9L4011.8,2216.9L4012.3,2219.9L4012.9,2222.9L4013.5,2225.9L4014.1,2228.9L4014.6,2231.9L4015.2,2234.9L4015.8,2237.9L4016.4,2240.9L4016.9,2243.9L4017.5,2246.9L4018.1,2249.9L4018.7,2252.9L4019.2,2255.9L4019.8,2258.9L4020.4,2261.9L4021,2264.9L4021.6,2267.9L4022.1,2270.9L4022.7,2273.9L4023.3,2276.9L4023.9,2279.9L4024.5,2282.9L4025,2285.9L4025.6,2288.9L4026.2,2291.9L4026.8,2294.9L4027.4,2297.9L4028,2300.9L4028.6,2303.9L4029.3,2306.9L4029.9,2309.9L4030.6,2312.9L4031.2,2315.9L4031.9,2318.9L4032.6,2321.9L4033.3,2324.9L4034.1,2327.9L4034.8,2330.9L4035.6,2333.9L4036.5,2336.9L4037.3,2339.9L4038.2,2342.9L4039.1,2345.9L4040.1,2348.9L4041.1,2351.9L4042.1,2354.9L4043.2,2357.9L4044.4,2360.9L4045.5,2363.9L4046.7,2366.9L4048,2369.9L4049.3,2372.9L4050.6,2375.9L4052,2378.9L4053.5,2381.9L4054.9,2384.9L4056.5,2387.9L4058,2390.9L4059.6,2393.9L4061.2,2396.9L4062.9,2399.9L4064.6,2402.9L4066.3,2405.9L4068,2408.9L4069.8,2411.9L4071.5,2414.9L4073.3,2417.9L4075.1,2420.9L4077,2423.9L4078.8,2426.9L4080.6,2429.9L4082.5,2432.9L4084.3,2435.9L4086.1,2438.9L4088,2441.9L4089.8,2444.9L4091.6,2447.9L4093.4,2450.9L4095.2,2453.9L4096.9,2456.9L4098.7,2459.9L4100.4,2462.9L4102.1,2465.9L4103.8,2468.9L4105.5,2471.9L4107.1,2474.9L4108.7,2477.9L4110.3,2480.9L4111.9,2483.9L4113.4,2486.9L4114.9,2489.9L4116.4,2492.9L4117.8,2495.9L4119.2,2498.9L4120.5,2501.9L4121.9,2504.9L4123.1,2507.9L4124.4,2510.9L4125.6,2513.9L4126.8,2516.9L4128,2519.9L4129.1,2522.9L4130.2,2525.9L4131.3,2528.9L4132.3,2531.9L4133.3,2534.9L4134.3,2537.9L4135.2,2540.9L4136.2,2543.9L4137.1,2546.9L4138,2549.9L4138.9,2552.9L4139.8,2555.9L4140.6,2558.9L4141.5,2561.9L4142.4,2564.9L4143.3,2567.9L4144.2,2570.9L4145.1,2573.9L4146,2576.9L4147,2579.9L4148,2582.9L4149,2585.9L4150,2588.9L4151.1,2591.9L4152.2,2594.9L4153.4,2597.9L4154.6,2600.9L4155.8,2603.9L4157.1,2606.9L4158.5,2609.9L4159.9,2612.9L4161.4,2615.9L4162.9,2618.9L4164.4,2621.9L4166,2624.9L4167.7,2627.9L4169.4,2630.9L4171.1,2633.9L4172.8,2636.9L4174.6,2639.9L4176.4,2642.9L4178.2,2645.9L4180,2648.9L4181.8,2651.9L4183.6,2654.9L4185.4,2657.9L4187.2,2660.9L4188.9,2663.9L4190.6,2666.9L4192.3,2669.9L4193.9,2672.9L4195.4,2675.9L4196.9,2678.9L4198.3,2681.9L4199.7,2684.9L4201,2687.9L4202.2,2690.9L4203.3,2693.9L4204.3,2696.9L4205.2,2699.9L4206.1,2702.9L4206.8,2705.9L4207.4,2708.9L4208,2711.9L4208.4,2714.9L4208.8,2717.9L4209,2720.9L4209.1,2723.9L4209.2,2726.9L4209.1,2729.9L4208.9,2732.9L4208.6,2735.9L4208.2,2738.9L4207.7,2741.9L4207.1,2744.9L4206.4,2747.9L4205.6,2750.9L4204.7,2753.9L4203.7,2756.9L4202.5,2759.9L4201.3,2762.9L4200,2765.9L4198.6,2768.9L4197,2771.9L4195.4,2774.9L4193.7,2777.9L4191.8,2780.9L4189.9,2783.9L4187.9,2786.9L4185.9,2789.9L4183.7,2792.9L4181.5,2795.9L4179.2,2798.9L4176.8,2801.9L4174.3,2804.9L4171.8,2807.9L4169.3,2810.9L4166.7,2813.9L4164,2816.9L4161.3,2819.9L4158.6,2822.9L4155.9,2825.9L4153.1,2828.9L4150.3,2831.9L4147.5,2834.9L4144.7,2837.9L4141.8,2840.9L4139,2843.9L4136.1,2846.9L4133.3,2849.9L4130.5,2852.9L4127.6,2855.9L4124.8,2858.9L4122,2861.9L4119.2,2864.9L4116.4,2867.9L4113.7,2870.9L4110.9,2873.9L4108.2,2876.9L4105.5,2879.9L4102.8,2882.9L4100.1,2885.9L4097.5,2888.9L4094.9,2891.9L4092.3,2894.9L4089.7,2897.9L4087.2,2900.9L4084.6,2903.9L4082.1,2906.9L4079.7,2909.9L4077.2,2912.9L4074.8,2915.9L4072.4,2918.9L4070.1,2921.9L4067.7,2924.9L4065.4,2927.9L4063.2,2930.9L4060.9,2933.9L4058.7,2936.9L4056.5,2939.9L4054.4,2942.9L4052.3,2945.9L4050.2,2948.9L4048.1,2951.9L4046.1,2954.9L4044.1,2957.9L4042.2,2960.9L4040.3,2963.9L4038.4,2966.9L4036.5,2969.9L4034.7,2972.9L4032.9,2975.9L4031.2,2978.9L4029.5,2981.9L4027.8,2984.9L4026.2,2987.9L4024.6,2990.9L4023,2993.9L4021.5,2996.9L4020,2999.9L4018.6,3002.9L4017.2,3005.9L4015.9,3008.9L4014.6,3011.9L4013.3,3014.9L4012.1,3017.9L4011,3020.9L4009.8,3023.9L4008.8,3026.9L4007.7,3029.9L4006.7,3032.9L4005.8,3035.9L4004.9,3038.9L4004.1,3041.9L4003.3,3044.9L4002.5,3047.9L4001.8,3050.9L4001.1,3053.9L4000.5,3056.9L3999.9,3059.9L3999.3,3062.9L3998.8,3065.9L3998.3,3068.9L3997.9,3071.9L3997.5,3074.9L3997.1,3077.9L3996.8,3080.9L3996.4,3083.9L3996.1,3086.9L3995.9,3089.9L3995.6,3092.9L3995.4,3095.9L3995.4,3096L3991.6,3096L3991.6,3095.9L3991.4,3092.9L3991.1,3089.9L3990.9,3086.9L3990.6,3083.9L3990.2,3080.9L3989.9,3077.9L3989.5,3074.9L3989.1,3071.9L3988.7,3068.9L3988.2,3065.9L3987.7,3062.9L3987.1,3059.9L3986.5,3056.9L3985.9,3053.9L3985.2,3050.9L3984.5,3047.9L3983.7,3044.9L3982.9,3041.9L3982.1,3038.9L3981.2,3035.9L3980.3,3032.9L3979.3,3029.9L3978.2,3026.9L3977.2,3023.9L3976,3020.9L3974.9,3017.9L3973.7,3014.9L3972.4,3011.9L3971.1,3008.9L3969.8,3005.9L3968.4,3002.9L3967,2999.9L3965.5,2996.9L3964,2993.9L3962.4,2990.9L3960.8,2987.9L3959.2,2984.9L3957.5,2981.9L3955.8,2978.9L3954.1,2975.9L3952.3,2972.9L3950.5,2969.9L3948.6,2966.9L3946.7,2963.9L3944.8,2960.9L3942.9,2957.9L3940.9,2954.9L3938.9,2951.9L3936.8,2948.9L3934.7,2945.9L3932.6,2942.9L3930.5,2939.9L3928.3,2936.9L3926.1,2933.9L3923.8,2930.9L3921.6,2927.9L3919.3,2924.9L3916.9,2921.9L3914.6,2918.9L3912.2,2915.9L3909.8,2912.9L3907.3,2909.9L3904.9,2906.9L3902.4,2903.9L3899.8,2900.9L3897.3,2897.9L3894.7,2894.9L3892.1,2891.9L3889.5,2888.9L3886.9,2885.9L3884.2,2882.9L3881.5,2879.9L3878.8,2876.9L3876.1,2873.9L3873.3,2870.9L3870.6,2867.9L3867.8,2864.9L3865,2861.9L3862.2,2858.9L3859.4,2855.9L3856.5,2852.9L3853.7,2849.9L3850.9,2846.9L3848,2843.9L3845.2,2840.9L3842.3,2837.9L3839.5,2834.9L3836.7,2831.9L3833.9,2828.9L3831.1,2825.9L3828.4,2822.9L3825.7,2819.9L3823,2816.9L3820.3,2813.9L3817.7,2810.9L3815.2,2807.9L3812.7,2804.9L3810.2,2801.9L3807.8,2798.9L3805.5,2795.9L3803.3,2792.9L3801.1,2789.9L3799.1,2786.9L3797.1,2783.9L3795.2,2780.9L3793.3,2777.9L3791.6,2774.9L3790,2771.9L3788.4,2768.9L3787,2765.9L3785.7,2762.9L3784.5,2759.9L3783.3,2756.9L3782.3,2753.9L3781.4,2750.9L3780.6,2747.9L3779.9,2744.9L3779.3,2741.9L3778.8,2738.9L3778.4,2735.9L3778.1,2732.9L3777.9,2729.9L3777.8,2726.9L3777.9,2723.9L3778,2720.9L3778.2,2717.9L3778.6,2714.9L3779,2711.9L3779.6,2708.9L3780.2,2705.9L3780.9,2702.9L3781.8,2699.9L3782.7,2696.9L3783.7,2693.9L3784.8,2690.9L3786,2687.9L3787.3,2684.9L3788.7,2681.9L3790.1,2678.9L3791.6,2675.9L3793.1,2672.9L3794.7,2669.9L3796.4,2666.9L3798.1,2663.9L3799.8,2660.9L3801.6,2657.9L3803.4,2654.9L3805.2,2651.9L3807,2648.9L3808.8,2645.9L3810.6,2642.9L3812.4,2639.9L3814.2,2636.9L3815.9,2633.9L3817.6,2630.9L3819.3,2627.9L3821,2624.9L3822.6,2621.9L3824.1,2618.9L3825.6,2615.9L3827.1,2612.9L3828.5,2609.9L3829.9,2606.9L3831.2,2603.9L3832.4,2600.9L3833.6,2597.9L3834.8,2594.9L3835.9,2591.9L3837,2588.9L3838,2585.9L3839,2582.9L3840,2579.9L3841,2576.9L3841.9,2573.9L3842.8,2570.9L3843.7,2567.9L3844.6,2564.9L3845.5,2561.9L3846.4,2558.9L3847.2,2555.9L3848.1,2552.9L3849,2549.9L3849.9,2546.9L3850.8,2543.9L3851.8,2540.9L3852.7,2537.9L3853.7,2534.9L3854.7,2531.9L3855.7,2528.9L3856.8,2525.9L3857.9,2522.9L3859,2519.9L3860.2,2516.9L3861.4,2513.9L3862.6,2510.9L3863.9,2507.9L3865.1,2504.9L3866.5,2501.9L3867.8,2498.9L3869.2,2495.9L3870.6,2492.9L3872.1,2489.9L3873.6,2486.9L3875.1,2483.9L3876.7,2480.9L3878.3,2477.9L3879.9,2474.9L3881.5,2471.9L3883.2,2468.9L3884.9,2465.9L3886.6,2462.9L3888.3,2459.9L3890.1,2456.9L3891.8,2453.9L3893.6,2450.9L3895.4,2447.9L3897.2,2444.9L3899,2441.9L3900.9,2438.9L3902.7,2435.9L3904.5,2432.9L3906.4,2429.9L3908.2,2426.9L3910,2423.9L3911.9,2420.9L3913.7,2417.9L3915.5,2414.9L3917.2,2411.9L3919,2408.9L3920.7,2405.9L3922.4,2402.9L3924.1,2399.9L3925.8,2396.9L3927.4,2393.9L3929,2390.9L3930.5,2387.9L3932.1,2384.9L3933.5,2381.9L3935,2378.9L3936.4,2375.9L3937.7,2372.9L3939,2369.9L3940.3,2366.9L3941.5,2363.9L3942.6,2360.9L3943.8,2357.9L3944.9,2354.9L3945.9,2351.9L3946.9,2348.9L3947.9,2345.9L3948.8,2342.9L3949.7,2339.9L3950.5,2336.9L3951.4,2333.9L3952.2,2330.9L3952.9,2327.9L3953.7,2324.9L3954.4,2321.9L3955.1,2318.9L3955.8,2315.9L3956.4,2312.9L3957.1,2309.9L3957.7,2306.9L3958.4,2303.9L3959,2300.9L3959.6,2297.9L3960.2,2294.9L3960.8,2291.9L3961.4,2288.9L3962,2285.9L3962.5,2282.9L3963.1,2279.9L3963.7,2276.9L3964.3,2273.9L3964.9,2270.9L3965.4,2267.9L3966,2264.9L3966.6,2261.9L3967.2,2258.9L3967.8,2255.9L3968.3,2252.9L3968.9,2249.9L3969.5,2246.9L3970.1,2243.9L3970.6,2240.9L3971.2,2237.9L3971.8,2234.9L3972.4,2231.9L3972.9,2228.9L3973.5,2225.9L3974.1,2222.9L3974.7,2219.9L3975.2,2216.9L3975.8,2213.9L3976.4,2210.9L3976.9,2207.9L3977.5,2204.9L3978.1,2201.9L3978.6,2198.9L3979.2,2195.9L3979.7,2192.9L3980.3,2189.9L3980.8,2186.9L3981.4,2183.9L3981.9,2180.9L3982.4,2177.9L3982.9,2174.9L3983.4,2171.9L3983.9,2168.9L3984.4,2165.9L3984.9,2162.9L3985.4,2159.9L3985.8,2156.9L3986.3,2153.9L3986.7,2150.9L3987.1,2147.9L3987.5,2144.9L3987.9,2141.9L3988.3,2138.9L3988.6,2135.9L3989,2132.9L3989.3,2129.9L3989.6,2126.9L3989.9,2123.9L3990.2,2120.9L3990.4,2117.9L3990.7,2114.9L3990.9,2111.9L3991.1,2108.9L3991.3,2105.9L3991.5,2102.9L3991.7,2099.9L3991.9,2096.9L3992,2093.9L3992.2,2090.9L3992.3,2087.9Z" fill="#C5B4DC"/>
<rect x="3978.4" y="2553.8" width="30" height="226.9" fill="#B5560B"/>
<circle cx="3993.4" cy="2690.2" r="10.5" fill="#fff"/>
<path d="M4532.5,2452.9L4532.7,2455.9L4532.9,2458.9L4533.2,2461.9L4533.5,2464.9L4533.8,2467.9L4534.1,2470.9L4534.5,2473.9L4534.9,2476.9L4535.3,2479.9L4535.8,2482.9L4536.3,2485.9L4536.8,2488.9L4537.4,2491.9L4537.9,2494.9L4538.6,2497.9L4539.2,2500.9L4539.9,2503.9L4540.7,2506.9L4541.4,2509.9L4542.2,2512.9L4543,2515.9L4543.8,2518.9L4544.6,2521.9L4545.4,2524.9L4546.3,2527.9L4547.1,2530.9L4548,2533.9L4548.8,2536.9L4549.6,2539.9L4550.5,2542.9L4551.3,2545.9L4552,2548.9L4552.8,2551.9L4553.5,2554.9L4554.2,2557.9L4554.9,2560.9L4555.5,2563.9L4556.1,2566.9L4556.6,2569.9L4557.1,2572.9L4557.6,2575.9L4558,2578.9L4558.4,2581.9L4558.7,2584.9L4559,2587.9L4559.3,2590.9L4559.5,2593.9L4559.7,2596.9L4559.9,2599.9L4560,2602.9L4560.1,2605.9L4560.1,2608.9L4560.2,2611.9L4560.2,2614.9L4560.2,2617.9L4560.1,2620.9L4560.1,2623.9L4560,2626.9L4560,2629.9L4559.9,2632.9L4559.9,2635.9L4559.8,2638.9L4559.7,2641.9L4559.7,2644.9L4559.7,2647.9L4559.7,2650.9L4559.7,2653.9L4559.8,2656.9L4559.9,2659.9L4560,2662.9L4560.2,2665.9L4560.4,2668.9L4560.7,2671.9L4561.1,2674.9L4561.5,2677.9L4562,2680.9L4562.5,2683.9L4563.2,2686.9L4563.9,2689.9L4564.7,2692.9L4565.6,2695.9L4566.5,2698.9L4567.6,2701.9L4568.8,2704.9L4570,2707.9L4571.3,2710.9L4572.7,2713.9L4574.2,2716.9L4575.8,2719.9L4577.5,2722.9L4579.3,2725.9L4581.2,2728.9L4583.1,2731.9L4585.1,2734.9L4587.3,2737.9L4589.4,2740.9L4591.7,2743.9L4594,2746.9L4596.4,2749.9L4598.9,2752.9L4601.4,2755.9L4604,2758.9L4606.6,2761.9L4609.2,2764.9L4611.9,2767.9L4614.6,2770.9L4617.2,2773.9L4619.9,2776.9L4622.5,2779.9L4625.1,2782.9L4627.7,2785.9L4630.2,2788.9L4632.6,2791.9L4634.9,2794.9L4637.1,2797.9L4639.3,2800.9L4641.3,2803.9L4643.1,2806.9L4644.9,2809.9L4646.5,2812.9L4648,2815.9L4649.4,2818.9L4650.7,2821.9L4651.8,2824.9L4652.9,2827.9L4653.8,2830.9L4654.7,2833.9L4655.5,2836.9L4656.3,2839.9L4657,2842.9L4657.7,2845.9L4658.5,2848.9L4659.2,2851.9L4660,2854.9L4660.9,2857.9L4661.9,2860.9L4662.9,2863.9L4664.1,2866.9L4665.4,2869.9L4666.8,2872.9L4668.3,2875.9L4670.1,2878.9L4671.9,2881.9L4673.9,2884.9L4676.1,2887.9L4678.4,2890.9L4680.9,2893.9L4683.5,2896.9L4686.3,2899.9L4689.1,2902.9L4692.1,2905.9L4695.2,2908.9L4698.3,2911.9L4701.5,2914.9L4704.7,2917.9L4708,2920.9L4711.2,2923.9L4714.4,2926.9L4717.6,2929.9L4720.8,2932.9L4723.8,2935.9L4726.7,2938.9L4729.5,2941.9L4732.2,2944.9L4734.7,2947.9L4737,2950.9L4739.1,2953.9L4740.9,2956.9L4742.5,2959.9L4743.8,2962.9L4744.9,2965.9L4745.7,2968.9L4746.1,2971.9L4746.3,2974.9L4746.1,2977.9L4745.6,2980.9L4744.8,2983.9L4743.6,2986.9L4742.2,2989.9L4740.4,2992.9L4738.3,2995.9L4735.9,2998.9L4733.2,3001.9L4730.2,3004.9L4726.9,3007.9L4723.4,3010.9L4719.6,3013.9L4715.6,3016.9L4711.4,3019.9L4707,3022.9L4702.4,3025.9L4697.7,3028.9L4692.8,3031.9L4687.8,3034.9L4682.7,3037.9L4677.5,3040.9L4672.3,3043.9L4667,3046.9L4661.6,3049.9L4656.2,3052.9L4650.9,3055.9L4645.5,3058.9L4640.2,3061.9L4634.9,3064.9L4629.7,3067.9L4624.5,3070.9L4619.4,3073.9L4614.4,3076.9L4609.6,3079.9L4604.8,3082.9L4600.2,3085.9L4595.7,3088.9L4591.3,3091.9L4587.1,3094.9L4585.4,3096.2L4476.8,3096.2L4475.1,3094.9L4470.9,3091.9L4466.5,3088.9L4462,3085.9L4457.4,3082.9L4452.6,3079.9L4447.8,3076.9L4442.8,3073.9L4437.7,3070.9L4432.5,3067.9L4427.3,3064.9L4422,3061.9L4416.7,3058.9L4411.3,3055.9L4406,3052.9L4400.6,3049.9L4395.2,3046.9L4389.9,3043.9L4384.7,3040.9L4379.5,3037.9L4374.4,3034.9L4369.4,3031.9L4364.5,3028.9L4359.8,3025.9L4355.2,3022.9L4350.8,3019.9L4346.6,3016.9L4342.6,3013.9L4338.8,3010.9L4335.3,3007.9L4332,3004.9L4329,3001.9L4326.3,2998.9L4323.9,2995.9L4321.8,2992.9L4320,2989.9L4318.6,2986.9L4317.4,2983.9L4316.6,2980.9L4316.1,2977.9L4315.9,2974.9L4316.1,2971.9L4316.5,2968.9L4317.3,2965.9L4318.4,2962.9L4319.7,2959.9L4321.3,2956.9L4323.1,2953.9L4325.2,2950.9L4327.5,2947.9L4330,2944.9L4332.7,2941.9L4335.5,2938.9L4338.4,2935.9L4341.4,2932.9L4344.6,2929.9L4347.8,2926.9L4351,2923.9L4354.2,2920.9L4357.5,2917.9L4360.7,2914.9L4363.9,2911.9L4367,2908.9L4370.1,2905.9L4373.1,2902.9L4375.9,2899.9L4378.7,2896.9L4381.3,2893.9L4383.8,2890.9L4386.1,2887.9L4388.3,2884.9L4390.3,2881.9L4392.1,2878.9L4393.9,2875.9L4395.4,2872.9L4396.8,2869.9L4398.1,2866.9L4399.3,2863.9L4400.3,2860.9L4401.3,2857.9L4402.2,2854.9L4403,2851.9L4403.7,2848.9L4404.5,2845.9L4405.2,2842.9L4405.9,2839.9L4406.7,2836.9L4407.5,2833.9L4408.4,2830.9L4409.3,2827.9L4410.4,2824.9L4411.5,2821.9L4412.8,2818.9L4414.2,2815.9L4415.7,2812.9L4417.3,2809.9L4419.1,2806.9L4420.9,2803.9L4422.9,2800.9L4425.1,2797.9L4427.3,2794.9L4429.6,2791.9L4432,2788.9L4434.5,2785.9L4437.1,2782.9L4439.7,2779.9L4442.3,2776.9L4445,2773.9L4447.6,2770.9L4450.3,2767.9L4453,2764.9L4455.6,2761.9L4458.2,2758.9L4460.8,2755.9L4463.3,2752.9L4465.8,2749.9L4468.2,2746.9L4470.5,2743.9L4472.8,2740.9L4474.9,2737.9L4477.1,2734.9L4479.1,2731.9L4481,2728.9L4482.9,2725.9L4484.7,2722.9L4486.4,2719.9L4488,2716.9L4489.5,2713.9L4490.9,2710.9L4492.2,2707.9L4493.4,2704.9L4494.6,2701.9L4495.7,2698.9L4496.6,2695.9L4497.5,2692.9L4498.3,2689.9L4499,2686.9L4499.7,2683.9L4500.2,2680.9L4500.7,2677.9L4501.1,2674.9L4501.5,2671.9L4501.8,2668.9L4502,2665.9L4502.2,2662.9L4502.3,2659.9L4502.4,2656.9L4502.5,2653.9L4502.5,2650.9L4502.5,2647.9L4502.5,2644.9L4502.5,2641.9L4502.4,2638.9L4502.3,2635.9L4502.3,2632.9L4502.2,2629.9L4502.2,2626.9L4502.1,2623.9L4502.1,2620.9L4502,2617.9L4502,2614.9L4502,2611.9L4502.1,2608.9L4502.1,2605.9L4502.2,2602.9L4502.3,2599.9L4502.5,2596.9L4502.7,2593.9L4502.9,2590.9L4503.2,2587.9L4503.5,2584.9L4503.8,2581.9L4504.2,2578.9L4504.6,2575.9L4505.1,2572.9L4505.6,2569.9L4506.1,2566.9L4506.7,2563.9L4507.3,2560.9L4508,2557.9L4508.7,2554.9L4509.4,2551.9L4510.2,2548.9L4510.9,2545.9L4511.7,2542.9L4512.6,2539.9L4513.4,2536.9L4514.2,2533.9L4515.1,2530.9L4515.9,2527.9L4516.8,2524.9L4517.6,2521.9L4518.4,2518.9L4519.2,2515.9L4520,2512.9L4520.8,2509.9L4521.5,2506.9L4522.3,2503.9L4523,2500.9L4523.6,2497.9L4524.3,2494.9L4524.8,2491.9L4525.4,2488.9L4525.9,2485.9L4526.4,2482.9L4526.9,2479.9L4527.3,2476.9L4527.7,2473.9L4528.1,2470.9L4528.4,2467.9L4528.7,2464.9L4529,2461.9L4529.3,2458.9L4529.5,2455.9L4529.7,2452.9Z" fill="#FFFFAA"/>
<rect x="4516.1" y="2816.7" width="30" height="182.7" fill="#B5560B"/>
<circle cx="4531.1" cy="2949.2" r="10.5" fill="#fff"/>
<rect x="2649.4" y="1824" width="2150.6" height="1413" fill="none" stroke="#000" stroke-width="6"/>
<line x1="4766" y1="3096" x2="4800" y2="3096" stroke="#000" stroke-width="6" />
<text x="4836.5" y="3118.5" font-size="77" text-anchor="start" >0.0</text>
<line x1="4783" y1="2954.6" x2="4800" y2="2954.6" stroke="#000" stroke-width="6" />
<line x1="4766" y1="2813.2" x2="4800" y2="2813.2" stroke="#000" stroke-width="6" />
<text x="4836.5" y="2835.8" font-size="77" text-anchor="start" >0.2</text>
<line x1="4783" y1="2671.9" x2="4800" y2="2671.9" stroke="#000" stroke-width="6" />
<line x1="4766" y1="2530.5" x2="4800" y2="2530.5" stroke="#000" stroke-width="6" />
<text x="4836.5" y="2553" font-size="77" text-anchor="start" >0.4</text>
<line x1="4783" y1="2389.1" x2="4800" y2="2389.1" stroke="#000" stroke-width="6" />
<line x1="4766" y1="2247.8" x2="4800" y2="2247.8" stroke="#000" stroke-width="6" />
<text x="4836.5" y="2270.2" font-size="77" text-anchor="start" >0.6</text>
<line x1="4783" y1="2106.4" x2="4800" y2="2106.4" stroke="#000" stroke-width="6" />
<line x1="4766" y1="1965" x2="4800" y2="1965" stroke="#000" stroke-width="6" />
<text x="4836.5" y="1987.5" font-size="77" text-anchor="start" >0.8</text>
<line x1="2919" y1="3237" x2="2919" y2="3271" stroke="#000" stroke-width="6" />
<text x="2918.5" y="3367" font-size="95" text-anchor="middle" >Spr</text>
<line x1="3456" y1="3237" x2="3456" y2="3271" stroke="#000" stroke-width="6" />
<text x="3455.5" y="3367" font-size="95" text-anchor="middle" >Sum</text>
<line x1="3993.4" y1="3237" x2="3993.4" y2="3271" stroke="#000" stroke-width="6" />
<text x="3992.9" y="3367" font-size="95" text-anchor="middle" >Aut</text>
<line x1="4531.1" y1="3237" x2="4531.1" y2="3271" stroke="#000" stroke-width="6" />
<text x="4530.6" y="3367" font-size="95" text-anchor="middle" >Win</text>
<text x="2710" y="1975" font-size="134" text-anchor="start" >(d)</text>
<rect x="4317.6" y="1908.3" width="346.1" height="270.1" fill="#fff" stroke="#000" stroke-width="1"/>
<rect x="4338.3" y="1929" width="121.7" height="43.9" fill="#FFCE9E"/>
<text x="4487.2" y="1966.9" font-size="49" text-anchor="start" >Spring</text>
<rect x="4338.3" y="1989.1" width="121.7" height="45.8" fill="#A2DDA2"/>
<text x="4487.2" y="2029.6" font-size="49" text-anchor="start" >Summer</text>
<rect x="4338.3" y="2052.2" width="121.7" height="47.8" fill="#C5B4DC"/>
<text x="4487.2" y="2086.8" font-size="49" text-anchor="start" >Autumn</text>
<rect x="4338.3" y="2118" width="121.7" height="46.1" fill="#FFFFAA"/>
<text x="4487.2" y="2152.8" font-size="49" text-anchor="start" >Winter</text>
</g>
</svg></body></html>
